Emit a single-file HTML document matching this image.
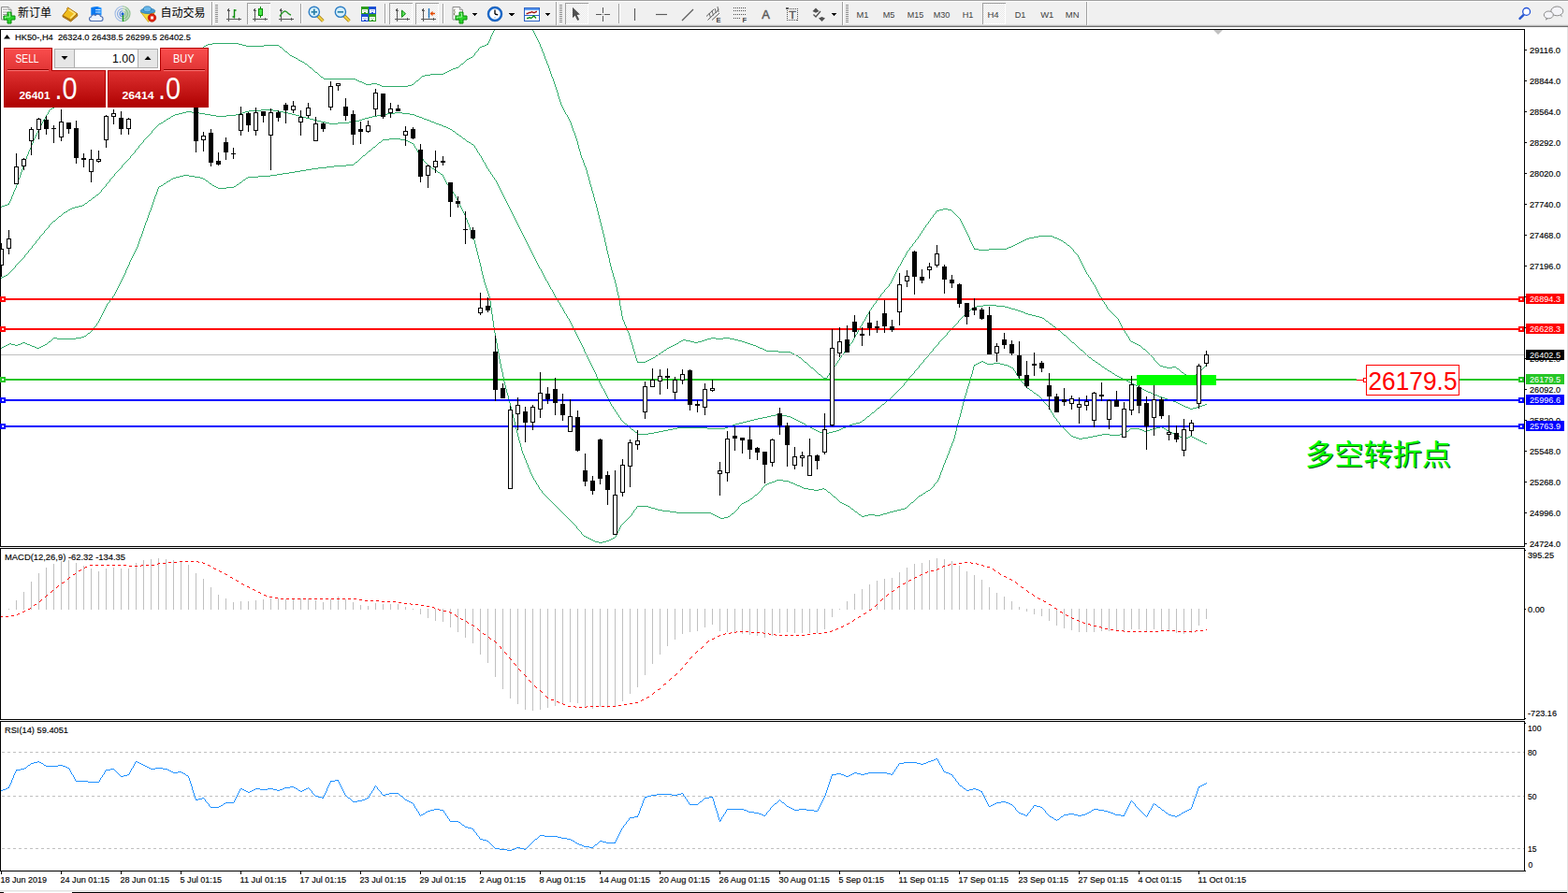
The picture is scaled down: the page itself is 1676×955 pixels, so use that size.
<!DOCTYPE html><html><head><meta charset="utf-8"><title>chart</title><style>html,body{margin:0;padding:0;background:#fff}body{width:1676px;height:955px;overflow:hidden}svg{display:block;font-family:"Liberation Sans",sans-serif}text{white-space:pre}.k text{stroke:#000;stroke-width:.15px}</style></head><body>
<svg width="1676" height="955" viewBox="0 0 1676 955" shape-rendering="crispEdges">
<defs>
<linearGradient id="gS" x1="0" y1="0" x2="0" y2="1"><stop offset="0" stop-color="#f64e4e"/><stop offset="1" stop-color="#e03838"/></linearGradient>
<linearGradient id="gP" x1="0" y1="0" x2="0" y2="1"><stop offset="0" stop-color="#d82c2c"/><stop offset="0.6" stop-color="#c41a1a"/><stop offset="1" stop-color="#ac0000"/></linearGradient>
<clipPath id="cm"><rect x="1" y="32" width="1628" height="552"/></clipPath>
<pattern id="chk" width="2" height="2" patternUnits="userSpaceOnUse"><rect width="2" height="2" fill="#fff"/><rect width="1" height="1" fill="#e6e6e6"/><rect x="1" y="1" width="1" height="1" fill="#e6e6e6"/></pattern>
</defs>
<rect x="0" y="0" width="1676" height="955" fill="#fff"/>
<rect x="0" y="0" width="1676" height="29" fill="#f0f0f0"/>
<rect x="0" y="0" width="1676" height="1" fill="#a0a0a0"/>
<rect x="0" y="1" width="1676" height="1" fill="#ffffff"/>
<rect x="0" y="26" width="1676" height="1" fill="#e2e2e2"/>
<rect x="0" y="27" width="1676" height="1" fill="#b4b4b4"/>
<rect x="0" y="28" width="1676" height="1" fill="#6e6e6e"/>
<rect x="0" y="29" width="1676" height="2" fill="#ffffff"/>
<g shape-rendering="geometricPrecision">
<path d="M1.5 7.5h7.500l3 3v10.500h-10.500z" fill="#fff" stroke="#8a8a8a"/><path d="M9 7.5v3h3" fill="#e8e8e8" stroke="#8a8a8a" stroke-width=".8"/>
<path d="M3 10h5" stroke="#9a9a9a" stroke-width="1"/>
<path d="M3 13h5" stroke="#9a9a9a" stroke-width="1"/>
<path d="M3 15.5h5" stroke="#9a9a9a" stroke-width="1"/>
<path d="M3 18h5" stroke="#9a9a9a" stroke-width="1"/>
<path d="M8 13h4v4h4v4h-4v4h-4v-4h-4v-4h4z" fill="#2bd42b" stroke="#0b8a0b" stroke-width="1"/>
<path d="M9 14.2h1.500v4h-5v1.500" fill="none" stroke="#9af59a" stroke-width="1"/>
<path d="M67 16.600l8.500 4.900l7-6.800l.4 2.200l-7.300 6.200l-8.600-5.200z" fill="#c8921c" stroke="#9a6410" stroke-width=".9" stroke-linejoin="round"/>
<path d="M72.600 8.100c-1.200 .6-1.300 1.800-.8 2.400l-4.700 6l8.400 4.800l7-6.700z" fill="#f0bc1c" stroke="#a86c0c" stroke-width="1" stroke-linejoin="round"/>
<path d="M73.500 10.200l6.800 4.500l-5 4.600" fill="none" stroke="#fce680" stroke-width="1.600" stroke-linejoin="round"/>
<path d="M97.500 8l7-1l4 1.500v8h-11z" fill="#1e90ff"/><path d="M97.500 8l7-1v9h-7z" fill="#0a78f0"/><path d="M102 10.500h5.500M102 13h5.500" stroke="#cfe8ff" stroke-width="1.2"/>
<path d="M98 22.500c-3 0-3.500-4-.5-4.500c0-2 3-3 4.500-1.500c1.500-2 5-1.500 5.500 1c3 0 3.500 4.500 .5 5z" fill="#eef3fb" stroke="#4a6cb0" stroke-width="1.1"/>
<g fill="none" stroke-width="1.100"><path d="M131 6.800a8 8 0 0 0 0 16" stroke="#3a78d8" opacity=".45"/><path d="M131 9.300a5.500 5.500 0 0 0 0 11" stroke="#3a78d8" opacity=".6"/><path d="M131 11.800a3 3 0 0 0 0 6" stroke="#3a78d8" opacity=".8"/><path d="M131 6.800a8 8 0 0 1 0 16" stroke="#4aa04a" opacity=".6"/><path d="M131 9.300a5.500 5.500 0 0 1 0 11" stroke="#4aa04a" opacity=".5"/><path d="M131 11.800a3 3 0 0 1 0 6" stroke="#6ab06a" opacity=".5"/></g>
<path d="M134 8.500a7.500 7.500 0 0 1 -1 14z" fill="#58a858" opacity=".35"/>
<path d="M131.500 15v8" stroke="#1a9a1a" stroke-width="1.500"/><circle cx="131" cy="14.800" r="1.600" fill="#1a5fd0"/>
<path d="M150.500 13h15l-7 10.500z" fill="#f8da3a" stroke="#c8a010" stroke-width=".8"/>
<ellipse cx="158" cy="11.700" rx="7.800" ry="2.800" fill="#4a9ed6" stroke="#2a7ab0" stroke-width=".8"/><ellipse cx="157.500" cy="9.800" rx="4.200" ry="3" fill="#6ab8ea" stroke="#2a7ab0" stroke-width=".8"/>
<circle cx="162.500" cy="19" r="4.200" fill="#e0220e" stroke="#b01808" stroke-width=".8"/><rect x="161" y="17.500" width="3" height="3" fill="#fff"/>
</g>
<text x="19" y="18" font-size="12" fill="#000" font-family="&quot;Liberation Sans&quot;, &quot;Noto Sans CJK SC&quot;, sans-serif">新订单</text>
<text x="171.5" y="18" font-size="12" fill="#000" font-family="&quot;Liberation Sans&quot;, &quot;Noto Sans CJK SC&quot;, sans-serif">自动交易</text>
<rect x="226" y="2" width="1" height="25" fill="#a0a0a0"/>
<rect x="227" y="2" width="1" height="25" fill="#ffffff"/>
<rect x="230" y="5" width="3" height="1" fill="#8e8e8e"/>
<rect x="230" y="7" width="3" height="1" fill="#8e8e8e"/>
<rect x="230" y="9" width="3" height="1" fill="#8e8e8e"/>
<rect x="230" y="11" width="3" height="1" fill="#8e8e8e"/>
<rect x="230" y="13" width="3" height="1" fill="#8e8e8e"/>
<rect x="230" y="15" width="3" height="1" fill="#8e8e8e"/>
<rect x="230" y="17" width="3" height="1" fill="#8e8e8e"/>
<rect x="230" y="19" width="3" height="1" fill="#8e8e8e"/>
<rect x="230" y="21" width="3" height="1" fill="#8e8e8e"/>
<rect x="230" y="23" width="3" height="1" fill="#8e8e8e"/>
<rect x="244" y="10" width="1" height="13" fill="#585858"/>
<rect x="242" y="20" width="13" height="1" fill="#585858"/>
<path d="M242.5 12l2-3l2 3z M254.5 18.500l3 2l-3 2z" fill="#585858"/>
<path d="M250.500 10v9.500M250.500 11h2M248.500 18h2" stroke="#0a8a0a" stroke-width="1.400" fill="none" shape-rendering="geometricPrecision"/>
<rect x="264" y="3" width="25" height="23" fill="url(#chk)"/>
<rect x="264" y="3" width="25" height="1" fill="#a0a0a0"/>
<rect x="264" y="3" width="1" height="23" fill="#a0a0a0"/>
<rect x="265" y="25" width="24" height="1" fill="#fff"/>
<rect x="288" y="4" width="1" height="22" fill="#fff"/>
<rect x="272" y="10" width="1" height="13" fill="#585858"/>
<rect x="270" y="20" width="13" height="1" fill="#585858"/>
<path d="M270.5 12l2-3l2 3z M282.5 18.500l3 2l-3 2z" fill="#585858"/>
<rect x="278" y="7" width="1" height="12" fill="#0a8a0a"/>
<rect x="276" y="9" width="5" height="8" fill="#0a8a0a"/>
<rect x="277" y="10" width="3" height="6" fill="#4ae84a"/>
<rect x="300" y="10" width="1" height="13" fill="#585858"/>
<rect x="298" y="20" width="13" height="1" fill="#585858"/>
<path d="M298.5 12l2-3l2 3z M310.5 18.500l3 2l-3 2z" fill="#585858"/>
<path d="M299 17.500C302 13 304 11 306 12.500S309 15.500 311 16" stroke="#2a9a2a" stroke-width="1.400" fill="none" shape-rendering="geometricPrecision"/>
<rect x="321" y="4" width="1" height="21" fill="#a0a0a0"/>
<rect x="322" y="4" width="1" height="21" fill="#ffffff"/>
<g shape-rendering="geometricPrecision"><path d="M339.8 17l5.500 5.500" stroke="#a8801a" stroke-width="3.600" stroke-linecap="butt"/><path d="M339.8 17l5.500 5.500" stroke="#f0d040" stroke-width="2"/><circle cx="335.8" cy="12.800" r="5.600" fill="#d6f0fb" stroke="#2a7cc4" stroke-width="1.400"/><path d="M332.6 12.800h6.400" stroke="#2a80a8" stroke-width="1.700"/><path d="M335.8 9.600v6.400" stroke="#2a80a8" stroke-width="1.700"/></g>
<g shape-rendering="geometricPrecision"><path d="M367.9 17l5.500 5.500" stroke="#a8801a" stroke-width="3.600" stroke-linecap="butt"/><path d="M367.9 17l5.500 5.500" stroke="#f0d040" stroke-width="2"/><circle cx="363.9" cy="12.800" r="5.600" fill="#d6f0fb" stroke="#2a7cc4" stroke-width="1.400"/><path d="M360.7 12.800h6.400" stroke="#2a80a8" stroke-width="1.700"/></g>
<rect x="386" y="7" width="8" height="8" fill="#2e9e1e"/>
<rect x="387" y="10" width="6" height="4" fill="#fff"/>
<rect x="388" y="11" width="4" height="1" fill="#b8d8b8"/>
<rect x="389" y="13" width="2" height="1" fill="#2e9e1e"/>
<rect x="394" y="7" width="8" height="8" fill="#1c50d4"/>
<rect x="395" y="10" width="6" height="4" fill="#fff"/>
<rect x="396" y="11" width="4" height="1" fill="#a8b8f0"/>
<rect x="397" y="13" width="2" height="1" fill="#1c50d4"/>
<rect x="386" y="15" width="8" height="8" fill="#1c50d4"/>
<rect x="387" y="18" width="6" height="4" fill="#fff"/>
<rect x="388" y="19" width="4" height="1" fill="#a8b8f0"/>
<rect x="389" y="21" width="2" height="1" fill="#1c50d4"/>
<rect x="394" y="15" width="8" height="8" fill="#2e9e1e"/>
<rect x="395" y="18" width="6" height="4" fill="#fff"/>
<rect x="396" y="19" width="4" height="1" fill="#b8d8b8"/>
<rect x="397" y="21" width="2" height="1" fill="#2e9e1e"/>
<rect x="411" y="4" width="1" height="21" fill="#a0a0a0"/>
<rect x="412" y="4" width="1" height="21" fill="#ffffff"/>
<rect x="416" y="3" width="25" height="23" fill="url(#chk)"/>
<rect x="416" y="3" width="25" height="1" fill="#a0a0a0"/>
<rect x="416" y="3" width="1" height="23" fill="#a0a0a0"/>
<rect x="417" y="25" width="24" height="1" fill="#fff"/>
<rect x="440" y="4" width="1" height="22" fill="#fff"/>
<rect x="424" y="10" width="1" height="13" fill="#585858"/>
<rect x="422" y="20" width="13" height="1" fill="#585858"/>
<path d="M422.5 12l2-3l2 3z M434.5 18.500l3 2l-3 2z" fill="#585858"/>
<path d="M429.500 11l4 3.700l-4 3.700z" fill="#5ae05a" stroke="#0a8a0a" stroke-width="1" shape-rendering="geometricPrecision"/>
<rect x="444" y="3" width="25" height="23" fill="url(#chk)"/>
<rect x="444" y="3" width="25" height="1" fill="#a0a0a0"/>
<rect x="444" y="3" width="1" height="23" fill="#a0a0a0"/>
<rect x="445" y="25" width="24" height="1" fill="#fff"/>
<rect x="468" y="4" width="1" height="22" fill="#fff"/>
<rect x="452" y="10" width="1" height="13" fill="#585858"/>
<rect x="450" y="20" width="13" height="1" fill="#585858"/>
<path d="M450.5 12l2-3l2 3z M462.5 18.500l3 2l-3 2z" fill="#585858"/>
<path d="M458.500 9v10.500" stroke="#1a70b8" stroke-width="1.400" shape-rendering="geometricPrecision"/><path d="M459.500 14.500l3-2.800v2.100h2.500v1.400h-2.500v2.100z" fill="#e24a00" shape-rendering="geometricPrecision"/>
<rect x="473" y="4" width="1" height="21" fill="#a0a0a0"/>
<rect x="474" y="4" width="1" height="21" fill="#ffffff"/>
<g shape-rendering="geometricPrecision">
<path d="M484.0 7.5h7.500l3 3v10.500h-10.500z" fill="#fff" stroke="#8a8a8a"/><path d="M491.5 7.5v3h3" fill="#e8e8e8" stroke="#8a8a8a" stroke-width=".8"/>
<path d="M486.500 10c-1.500 0-1.500 2.500 0 3c-1.500 .5-1.500 3.500 0 3.500" fill="none" stroke="#6a6a4a" stroke-width=".9"/>
<path d="M491 13h4v4h4v4h-4v4h-4v-4h-4v-4h4z" fill="#2bd42b" stroke="#0b8a0b" stroke-width="1"/>
<path d="M492 14.2h1.500v4h-5v1.500" fill="none" stroke="#9af59a" stroke-width="1"/>
</g>
<path d="M504.5 14h6l-3 3.500z" fill="#000"/>
<g shape-rendering="geometricPrecision"><circle cx="529" cy="15" r="6.900" fill="#fff" stroke="#1868cc" stroke-width="2.200"/><circle cx="529" cy="15" r="7.900" fill="none" stroke="#0a4aa0" stroke-width=".5"/><path d="M529 15v-4.500M529 15l3.200.8" stroke="#000" stroke-width="1.300" fill="none"/><circle cx="529" cy="18.800" r=".7" fill="#6ab0ff"/></g>
<path d="M544 14h6l-3 3.500z" fill="#000"/>
<rect x="560" y="8" width="17" height="15" fill="#2a60c4"/>
<rect x="561" y="9" width="15" height="2" fill="#5a9af0"/>
<rect x="561" y="11" width="15" height="5" fill="#fff"/>
<rect x="561" y="17" width="15" height="5" fill="#fff"/>
<path d="M562.500 14.500h1.500l1.500-1h1.500l1.500-1l1.500 1h1.500l1.500-1h1" stroke="#a01414" stroke-width="1.300" fill="none" shape-rendering="geometricPrecision"/><path d="M563 19.500h1.500l1.500-1l1.500 1l1.500-1l1.500-1.500l1.500 1.500l1 1" stroke="#0a8a0a" stroke-width="1.300" fill="none" shape-rendering="geometricPrecision"/>
<path d="M582.5 14h6l-3 3.500z" fill="#000"/>
<rect x="594" y="2" width="1" height="25" fill="#a0a0a0"/>
<rect x="595" y="2" width="1" height="25" fill="#ffffff"/>
<rect x="598" y="5" width="3" height="1" fill="#8e8e8e"/>
<rect x="598" y="7" width="3" height="1" fill="#8e8e8e"/>
<rect x="598" y="9" width="3" height="1" fill="#8e8e8e"/>
<rect x="598" y="11" width="3" height="1" fill="#8e8e8e"/>
<rect x="598" y="13" width="3" height="1" fill="#8e8e8e"/>
<rect x="598" y="15" width="3" height="1" fill="#8e8e8e"/>
<rect x="598" y="17" width="3" height="1" fill="#8e8e8e"/>
<rect x="598" y="19" width="3" height="1" fill="#8e8e8e"/>
<rect x="598" y="21" width="3" height="1" fill="#8e8e8e"/>
<rect x="598" y="23" width="3" height="1" fill="#8e8e8e"/>
<rect x="604" y="3" width="25" height="23" fill="url(#chk)"/>
<rect x="604" y="3" width="25" height="1" fill="#a0a0a0"/>
<rect x="604" y="3" width="1" height="23" fill="#a0a0a0"/>
<rect x="605" y="25" width="24" height="1" fill="#fff"/>
<rect x="628" y="4" width="1" height="22" fill="#fff"/>
<path d="M612 7.800v11.400l2.700-2.500l2.500 5.300l2-1l-2.500-5.100l3.300-.4z" fill="#505050" shape-rendering="geometricPrecision"/>
<rect x="637" y="15" width="6" height="1" fill="#585858"/>
<rect x="646" y="15" width="6" height="1" fill="#585858"/>
<rect x="644" y="8" width="1" height="6" fill="#585858"/>
<rect x="644" y="17" width="1" height="6" fill="#585858"/>
<rect x="644" y="15" width="1" height="1" fill="#909090"/>
<rect x="661" y="4" width="1" height="21" fill="#a0a0a0"/>
<rect x="662" y="4" width="1" height="21" fill="#ffffff"/>
<g shape-rendering="geometricPrecision" stroke="#5c5c5c" stroke-width="1.150" fill="none">
<path d="M678.500 9v13"/><path d="M701 15.500h12"/><path d="M729 22l12-12"/>
<path d="M755 17.500l8-7.500M756.500 21.500l12-11.500M761 21.500l8-7.500" stroke-width="1"/><path d="M758 14l1.500 5M761 11.500l1.500 5M764 9l1.500 5M767 7l1 6" stroke-width=".9"/>
</g>
<text x="765.5" y="24" font-size="7.5" fill="#404040" font-weight="bold">E</text>
<line x1="784" y1="8.5" x2="797" y2="8.5" stroke="#505050" stroke-width="1" stroke-dasharray="1 1"/>
<line x1="784" y1="11.5" x2="797" y2="11.5" stroke="#505050" stroke-width="1" stroke-dasharray="1 1"/>
<line x1="784" y1="15.5" x2="797" y2="15.5" stroke="#505050" stroke-width="1" stroke-dasharray="1 1"/>
<line x1="784" y1="19.5" x2="791" y2="19.5" stroke="#505050" stroke-width="1" stroke-dasharray="1 1"/>
<text x="793.5" y="24" font-size="7.5" fill="#404040" font-weight="bold">F</text>
<text x="814.3" y="20" font-size="12.5" fill="#585858" textLength="8.6" lengthAdjust="spacingAndGlyphs" stroke="#585858" stroke-width=".4">A</text>
<rect x="841.500" y="9.500" width="11" height="12" fill="none" stroke="#505050" stroke-width="1" stroke-dasharray="1 1"/>
<rect x="840" y="8" width="3" height="2" fill="#585858"/>
<text x="843.2" y="19.5" font-size="11.5" fill="#585858" textLength="7.6" lengthAdjust="spacingAndGlyphs" stroke="#585858" stroke-width=".4">T</text>
<g shape-rendering="geometricPrecision" fill="#505050"><path d="M868.500 12l3.500-3.500l3.500 3.500l-3.500 1.800z"/><path d="M875 19.500l3.500-1.500l3.500 1.500l-3.500 3.500z"/><path d="M869.500 15.500l2.500 2.500l5-6" fill="none" stroke="#505050" stroke-width="1.300"/></g>
<path d="M888.5 14h6l-3 3.500z" fill="#000"/>
<rect x="900" y="2" width="1" height="25" fill="#a0a0a0"/>
<rect x="901" y="2" width="1" height="25" fill="#ffffff"/>
<rect x="904" y="5" width="3" height="1" fill="#8e8e8e"/>
<rect x="904" y="7" width="3" height="1" fill="#8e8e8e"/>
<rect x="904" y="9" width="3" height="1" fill="#8e8e8e"/>
<rect x="904" y="11" width="3" height="1" fill="#8e8e8e"/>
<rect x="904" y="13" width="3" height="1" fill="#8e8e8e"/>
<rect x="904" y="15" width="3" height="1" fill="#8e8e8e"/>
<rect x="904" y="17" width="3" height="1" fill="#8e8e8e"/>
<rect x="904" y="19" width="3" height="1" fill="#8e8e8e"/>
<rect x="904" y="21" width="3" height="1" fill="#8e8e8e"/>
<rect x="904" y="23" width="3" height="1" fill="#8e8e8e"/>
<rect x="1050" y="3" width="25" height="23" fill="url(#chk)"/>
<rect x="1050" y="3" width="25" height="1" fill="#a0a0a0"/>
<rect x="1050" y="3" width="1" height="23" fill="#a0a0a0"/>
<rect x="1051" y="25" width="24" height="1" fill="#fff"/>
<rect x="1074" y="4" width="1" height="22" fill="#fff"/>
<text x="915.5" y="19" font-size="9.5" fill="#404040" textLength="13" lengthAdjust="spacingAndGlyphs">M1</text>
<text x="943.65" y="19" font-size="9.5" fill="#404040" textLength="12.7" lengthAdjust="spacingAndGlyphs">M5</text>
<text x="969.75" y="19" font-size="9.5" fill="#404040" textLength="17.5" lengthAdjust="spacingAndGlyphs">M15</text>
<text x="997.7" y="19" font-size="9.5" fill="#404040" textLength="17.6" lengthAdjust="spacingAndGlyphs">M30</text>
<text x="1028.65" y="19" font-size="9.5" fill="#404040" textLength="11.7" lengthAdjust="spacingAndGlyphs">H1</text>
<text x="1055.4" y="19" font-size="9.5" fill="#404040" textLength="12.2" lengthAdjust="spacingAndGlyphs">H4</text>
<text x="1084.65" y="19" font-size="9.5" fill="#404040" textLength="11.7" lengthAdjust="spacingAndGlyphs">D1</text>
<text x="1112.2" y="19" font-size="9.5" fill="#404040" textLength="14.2" lengthAdjust="spacingAndGlyphs">W1</text>
<text x="1138.8500000000001" y="19" font-size="9.5" fill="#404040" textLength="14.7" lengthAdjust="spacingAndGlyphs">MN</text>
<rect x="1161" y="2" width="1" height="25" fill="#a0a0a0"/>
<rect x="1162" y="2" width="1" height="25" fill="#ffffff"/>
<g shape-rendering="geometricPrecision"><path d="M1628.800 15.600l-4.300 4.300" stroke="#2a58d0" stroke-width="2.400" stroke-linecap="round"/><circle cx="1631.600" cy="12.400" r="3.900" fill="#fff" stroke="#2050d8" stroke-width="1.300"/>
<path d="M1668 16.500l1.500 2l-.3-2.300z" fill="#707070"/><ellipse cx="1664.300" cy="11.900" rx="6.500" ry="4.900" fill="#f4f4f8" stroke="#8a8a8a" stroke-width="1"/><path d="M1652.500 19.500l-.2 2.300l2-1.800z" fill="#707070"/><ellipse cx="1655.300" cy="15.900" rx="5" ry="3.900" fill="#f4f4f8" stroke="#8a8a8a" stroke-width="1"/></g>
<rect x="0" y="31" width="1630" height="1" fill="#000"/>
<rect x="0" y="31" width="1" height="901" fill="#000"/>
<rect x="1629" y="31" width="1" height="554" fill="#000"/>
<rect x="0" y="584" width="1630" height="1" fill="#000"/>
<rect x="0" y="586" width="1630" height="1" fill="#000"/>
<rect x="1629" y="586" width="1" height="184" fill="#000"/>
<rect x="0" y="769" width="1630" height="1" fill="#000"/>
<rect x="0" y="771" width="1630" height="1" fill="#000"/>
<rect x="1629" y="771" width="1" height="161" fill="#000"/>
<rect x="0" y="931" width="1631" height="1" fill="#000"/>
<rect x="0" y="585" width="1" height="1" fill="#fff"/>
<rect x="0" y="770" width="1" height="1" fill="#fff"/>
<rect x="1675" y="29" width="1" height="926" fill="#e3e3e3"/>
<rect x="0" y="952" width="1676" height="1" fill="#e3e3e3"/>
<rect x="0" y="953" width="1676" height="1" fill="#f0f0f0"/>
<rect x="0" y="954" width="4" height="1" fill="#000"/>
<rect x="77" y="954" width="1598" height="1" fill="#000"/>
<g clip-path="url(#cm)">
<path d="M1 221.5h1m0 -1h3m0 -1h3m0 -1h2m-1 -1h1m0.5 -2.5v2m1 -4v2m1 -5v3m1 -5v2m1 -5v3m1 -5v2m1 -4v2m1 -5v3m1 -6v3m1 -6v3m1 -5v2m1 -5v3m1 -6v3m1 -6v3m1 -6v3m1 -5v2m1 -5v3m1 -6v3m1 -6v3m1 -5v2m1 -5v3m1 -5v2m1 -4v2m1 -5v3m1 -5v2m1 -5v3m1 -5v2m1 -4v2m1 -4v2m1 -4v2m1 -4v2m1 -4v2m1 -4v2m1 -4v2m1 -4v2m1 -4v2m1 -4v2m0.5 -2.5h1m0.5 -2.5v2m1 -4v2m0.5 -2.5h1m0.5 -2.5v2m1 -4v2m0.5 -2.5h1m0 -1h2m0 -1h2m0 -1h2m0 -1h1m0 -1h2m0 -1h2m0 -1h2m0 -1h1m0 -1h2m0 -1h2m0 -1h2m0 -1h1m0 -1h2m0 -1h2m0 -1h1m0 -1h2m0 -1h2m0 -1h2m0 -1h1m0 -1h2m0 -1h2m0 -1h2m0 -1h1m0 -1h2m0 -1h2m0 -1h2m0 -1h2m0 -1h3m0 -1h3m0 -1h3m0 -1h3m0 -1h3m0 -1h3m0 -1h3m0 -1h3m0 -1h3m0 -1h3m0 -1h3m0 -1h3m0 -1h3m0 -1h3m0 -1h3m0 -1h3m0 -1h3m0 -1h3m0 -1h3m0 -1h3m0 -1h4m0 -1h4m0 -1h4m0 -1h3m0 -1h4m0 -1h4m0 -1h3m0 -1h4m0 -1h4m0 -1h4m0 -1h3m0 -1h4m0 -1h4m0 -1h2m0 -1h1m0 -1h1m0.5 -2.5v2m0.5 -2.5h1m0 -1h1m0 -1h2m0 -1h2m0 -1h5m0 -1h28m0 1h4m0 1h4m0 1h19m0 -1h16m0 1h1m0 1h2m0 1h1m0 1h1m0 1h1m0 1h1m0 1h2m0 1h1m0 1h1m0 1h1m0 1h2m0 1h2m0 1h2m0 1h2m0 1h1m0 1h2m0 1h2m0 1h2m0 1h1m0 1h2m0 1h1m0 1h1m0 1h1m0 1h2m0 1h1m0 1h1m0 1h1m0 1h1m0 1h2m0 1h1m0 1h1m0 1h1m0 1h1m0 1h2m0 1h1m0 1h34m0 1h2m0 1h2m0 1h3m0 1h2m0 1h2m0 1h6m0 -1h6m0 1h3m0 1h2m0 1h28m0 -1h4m0 -1h2m0 -1h1m0 -1h1m0 -1h1m0 -1h2m0 -1h1m0 -1h1m0 -1h1m0 -1h1m0 -1h3m0 -1h6m0 -1h14m0 -1h2m0 -1h2m0 -1h2m0 -1h2m0 -1h2m0 -1h3m0 -1h3m0 -1h1m0 -1h1m0 -1h1m0 -1h2m0 -1h1m0 -1h1m0 -1h1m0 -1h1m0 -1h2m0 -1h2m0 -1h2m0 -1h1m0 -1h1m0.5 -2.5v2m0.5 -2.5h1m0 -1h1m0 -1h1m0.5 -2.5v2m0.5 -2.5h1m0 -1h2m0 -1h3m0 -1h2m0 -1h2m-1 -1h1m0.5 -2.5v2m1 -4v2m1 -5v3m1 -5v2m1 -4v2m1 -4v2m0.5 -2.5h1m40 0h1m0.5 0.5v2m1 0v2m1 0v2m1 0v2m1 0v2m1 0v2m1 0v2m1 0v3m1 0v2m1 0v3m1 0v2m1 0v3m1 0v3m1 0v2m1 0v3m1 0v2m1 0v3m1 0v3m1 0v3m1 0v3m1 0v2m1 0v3m1 0v3m1 0v3m1 0v3m1 0v3m1 0v4m1 0v3m1 0v3m1 0v3m1 0v2m1 0v2m1 0v2m1 0v2m1 0v2m0.5 0.5h1m0.5 0.5v2m1 0v2m1 0v2m1 0v2m1 0v3m1 0v3m1 0v3m1 0v2m1 0v3m1 0v3m1 0v3m1 0v4m1 0v4m1 0v3m1 0v4m1 0v3m1 0v2m1 0v3m1 0v3m1 0v2m1 0v3m1 0v4m1 0v3m1 0v4m1 0v4m1 0v3m1 0v4m1 0v3m1 0v4m1 0v4m1 0v3m1 0v4m1 0v4m1 0v4m1 0v4m1 0v4m1 0v4m1 0v4m1 0v4m1 0v4m1 0v5m1 0v4m1 0v5m1 0v4m1 0v4m1 0v5m1 0v4m1 0v4m1 0v3m1 0v4m1 0v3m1 0v4m1 0v4m1 0v5m1 0v4m1 0v5m1 0v6m1 0v5m1 0v6m1 0v4m1 0v2m1 0v3m1 0v2m1 0v2m1 0v3m1 0v2m1 0v3m1 0v4m1 0v3m1 0v3m1 0v4m1 0v3m1 0v3m1 0v4m1 0v3m1 0v2m0.5 -0.5h8m0 -1h2m0 -1h2m0 -1h2m0 -1h2m0 -1h2m0 -1h1m0 -1h2m0 -1h1m0 -1h2m0 -1h1m0 -1h2m0 -1h1m0 -1h2m0 -1h1m0 -1h2m0 -1h2m0 -1h2m0 -1h2m0 -1h2m0 -1h2m0 -1h1m0 -1h2m0 -1h2m0 -1h3m0 1h5m0 1h4m0 1h4m0 -1h4m0 -1h3m0 -1h3m0 -1h4m0 -1h5m0 1h8m0 -1h7m0 1h5m0 1h4m0 1h4m0 1h3m0 1h3m0 1h3m0 1h3m0 1h3m0 1h2m0 1h2m0 1h3m0 1h2m0 1h2m0 1h13m0 1h13m0 1h2m0 1h2m0 1h2m0 1h2m0 1h1m0 1h2m0 1h1m0 1h1m0 1h1m0 1h1m0 1h2m0 1h1m0 1h1m0 1h1m0 1h1m0 1h1m0 1h2m0 1h1m0 1h1m0 1h1m0 1h1m0 1h1m0 1h1m0 1h2m0 1h1m0 1h1m0 1h1m0 1h4m0.5 -2.5v2m0.5 -2.5h1m0.5 -2.5v2m0.5 -2.5h1m0 -1h1m0.5 -2.5v2m0.5 -2.5h1m0.5 -2.5v2m0.5 -2.5h1m0.5 -2.5v2m0.5 -2.5h1m0.5 -2.5v2m0.5 -2.5h1m0.5 -2.5v2m0.5 -2.5h1m0.5 -2.5v2m0.5 -2.5h1m0 -1h1m0.5 -2.5v2m0.5 -2.5h1m0 -1h1m0.5 -2.5v2m0.5 -2.5h1m0 -1h1m0.5 -2.5v2m0.5 -2.5h1m0 -1h1m0.5 -2.5v2m1 -4v2m1 -4v2m1 -4v2m0.5 -2.5h1m0.5 -2.5v2m1 -4v2m1 -4v2m1 -4v2m0.5 -2.5h1m0.5 -2.5v2m1 -4v2m0.5 -2.5h1m0.5 -2.5v2m1 -4v2m1 -4v2m0.5 -2.5h1m0.5 -2.5v2m1 -4v2m0.5 -2.5h1m0.5 -2.5v2m0.5 -2.5h1m0.5 -2.5v2m0.5 -2.5h1m0 -1h1m0.5 -2.5v2m0.5 -2.5h1m0.5 -2.5v2m0.5 -2.5h1m0 -1h1m0.5 -2.5v2m0.5 -2.5h1m0 -1h1m0 -1h1m0.5 -2.5v2m0.5 -2.5h1m0 -1h1m0 -1h1m0 -1h1m0.5 -2.5v2m0.5 -2.5h1m0.5 -2.5v2m1 -4v2m1 -4v2m1 -4v2m1 -4v2m1 -4v2m1 -4v2m1 -4v2m1 -4v2m0.5 -2.5h1m0.5 -2.5v2m1 -4v2m1 -4v2m1 -4v2m0.5 -2.5h1m0.5 -2.5v2m1 -4v2m1 -4v2m0.5 -2.5h1m0 -1h1m0.5 -2.5v2m0.5 -2.5h1m0 -1h1m0.5 -2.5v2m0.5 -2.5h1m0 -1h1m0.5 -2.5v2m0.5 -2.5h1m0 -1h1m0.5 -2.5v2m0.5 -2.5h1m0.5 -2.5v2m0.5 -2.5h1m0.5 -2.5v2m0.5 -2.5h1m0.5 -2.5v2m0.5 -2.5h1m0.5 -2.5v2m0.5 -2.5h1m0 -1h1m0.5 -2.5v2m0.5 -2.5h1m0.5 -2.5v2m0.5 -2.5h1m0 -1h1m0.5 -2.5v2m0.5 -2.5h1m0 -1h1m0.5 -2.5v2m0.5 -2.5h3m0 -1h4m0 -1h5m0 1h4m0 1h1m0 1h1m0 1h1m0 1h1m0 1h1m0 1h1m0 1h1m0 1h1m0 1h1m0.5 0.5v2m1 0v2m1 0v2m1 0v2m1 0v2m1 0v2m1 0v2m1 0v2m1 0v2m1 0v2m1 0v3m1 0v2m1 0v2m1 0v2m1 0v2m1 0v2m0.5 -0.5h4m0 1h11m0 -1h19m0 -1h2m0 -1h3m0 -1h2m0 -1h2m0 -1h2m0 -1h2m0 -1h2m0 -1h2m0 -1h2m0 -1h2m0 -1h3m0 -1h5m0 -1h5m0 -1h15m0 1h2m0 1h3m0 1h2m0 1h2m0 1h2m0 1h1m0 1h2m0 1h1m0 1h1m0 1h2m0 1h1m0 1h1m0 1h1m0 1h1m0.5 0.5v2m0.5 0.5h1m0 1h1m0 1h1m0 1h1m0.5 0.5v2m1 0v2m1 0v2m1 0v2m1 0v2m1 0v2m1 0v2m1 0v2m1 0v2m1 0v2m0.5 0.5h1m0.5 0.5v2m0.5 0.5h1m0.5 0.5v2m1 0v2m0.5 0.5h1m0.5 0.5v2m0.5 0.5h1m0.5 0.5v2m1 0v2m1 0v2m1 0v2m1 0v2m1 0v2m0.5 0.5h1m0.5 0.5v2m1 0v2m0.5 0.5h1m0.5 0.5v2m0.5 0.5h1m0.5 0.5v2m1 0v2m0.5 0.5h1m0 1h1m0 1h1m0 1h1m0 1h1m0 1h1m0 1h1m0 1h1m0 1h1m0 1h1m0 1h1m0.5 0.5v2m1 0v2m1 0v2m1 0v2m1 0v2m0.5 0.5h1m0.5 0.5v2m1 0v2m0.5 0.5h1m0.5 0.5v2m0.5 0.5h1m0.5 0.5v2m1 0v2m0.5 0.5h1m0 1h2m0 1h2m0 1h2m0 1h2m0 1h2m0 1h1m0 1h1m0 1h1m0 1h2m0 1h1m0 1h1m0 1h1m0 1h1m0 1h1m0 1h1m0 1h1m0 1h1m0 1h1m0.5 0.5v2m0.5 0.5h1m0 1h1m0 1h1m0 1h1m0 1h1m0 1h1m0 1h3m0 1h4m0 1h6m0 -1h4m0 1h1m0 1h2m0 1h1m0 1h1m0 1h1m0 1h2m0 1h1m0 1h2m0 1h2m0 1h2m0 1h2m0 -1h2m0 -1h2m0 -1h1m0 -1h2m0 -1h1m0 -1h1m0 -1h1m0 -1h1m0 -1h1m0 -1h1m0 -1h1m0 -1h1m0 -1h1" fill="none" stroke="#2fab6a" stroke-width="1"/>
<path d="M1 297.5h1m0 -1h2m0 -1h2m0 -1h2m0 -1h1m0 -1h1m0 -1h1m0 -1h1m0 -1h1m0 -1h1m0 -1h1m0 -1h1m0.5 -2.5v2m0.5 -2.5h1m0 -1h1m0 -1h1m0 -1h1m0 -1h1m0 -1h1m0 -1h1m0 -1h1m0 -1h1m0.5 -2.5v2m0.5 -2.5h1m0 -1h1m0 -1h1m0.5 -2.5v2m0.5 -2.5h1m0 -1h1m0 -1h1m0.5 -2.5v2m0.5 -2.5h1m0 -1h1m0 -1h1m0.5 -2.5v2m0.5 -2.5h1m0 -1h1m0 -1h1m0.5 -2.5v2m0.5 -2.5h1m0 -1h1m0 -1h1m0 -1h1m0.5 -2.5v2m0.5 -2.5h1m0 -1h1m0 -1h1m0 -1h1m0.5 -2.5v2m0.5 -2.5h1m0 -1h1m0 -1h1m0 -1h1m0 -1h2m0 -1h1m0 -1h1m0 -1h1m0 -1h1m0 -1h2m0 -1h1m0 -1h1m0 -1h1m0 -1h2m0 -1h2m0 -1h1m0 -1h2m0 -1h2m0 -1h3m0 -1h4m0 -1h4m0 -1h2m0 -1h1m0 -1h2m0 -1h1m0 -1h1m0 -1h2m0 -1h1m0 -1h1m0 -1h2m0 -1h1m0 -1h1m0 -1h2m0 -1h1m0 -1h1m0 -1h1m0.5 -2.5v2m0.5 -2.5h1m0 -1h1m0 -1h1m0 -1h1m0.5 -2.5v2m0.5 -2.5h1m0 -1h1m0 -1h1m0.5 -2.5v2m0.5 -2.5h1m0 -1h1m0 -1h1m0 -1h1m0.5 -2.5v2m0.5 -2.5h1m0 -1h1m0 -1h1m0 -1h1m0 -1h1m0 -1h1m0 -1h1m0.5 -2.5v2m0.5 -2.5h1m0 -1h1m0 -1h1m0 -1h1m0 -1h1m0 -1h1m0 -1h1m0 -1h1m0.5 -2.5v2m0.5 -2.5h1m0 -1h1m0 -1h1m0 -1h1m0.5 -2.5v2m0.5 -2.5h1m0 -1h1m0 -1h1m0.5 -2.5v2m0.5 -2.5h1m0 -1h1m0 -1h1m0 -1h1m0.5 -2.5v2m0.5 -2.5h1m0 -1h1m0 -1h1m0 -1h1m0 -1h1m0 -1h1m0 -1h1m0 -1h1m0.5 -2.5v2m0.5 -2.5h1m0 -1h1m0 -1h1m0 -1h1m0 -1h1m0 -1h1m0 -1h1m0 -1h2m0 -1h2m0 -1h1m0 -1h2m0 -1h1m0 -1h2m0 -1h2m0 -1h1m0 -1h2m0 -1h2m0 -1h4m0 -1h4m0 -1h4m0 -1h6m0 1h8m0 1h6m0 1h6m0 1h6m0 1h11m0 -1h10m0 -1h4m0 -1h3m0 -1h3m0 -1h4m0 -1h13m0 -1h13m0 1h6m0 1h5m0 1h5m0 1h4m0 1h4m0 1h4m0 1h3m0 1h4m0 1h4m0 1h4m0 1h4m0 1h4m0 1h5m0 1h4m0 1h9m0 -1h12m0 -1h7m0 -1h4m0 -1h3m0 -1h3m0 -1h4m0 -1h4m0 -1h5m0 -1h4m0 -1h7m0 -1h8m0 -1h8m0 1h8m0 1h5m0 1h2m0 1h3m0 1h3m0 1h2m0 1h3m0 1h3m0 1h2m0 1h3m0 1h2m0 1h3m0 1h3m0 1h2m0 1h3m0 1h2m0 1h2m0 1h2m0 1h1m0 1h2m0 1h1m0 1h1m0 1h2m0 1h1m0 1h2m0 1h1m0 1h1m0 1h2m0 1h1m0 1h1m0 1h2m0 1h2m0 1h1m0 1h2m0 1h1m0.5 0.5v2m0.5 0.5h1m0.5 0.5v2m1 0v2m0.5 0.5h1m0.5 0.5v2m0.5 0.5h1m0.5 0.5v2m1 0v2m1 0v2m0.5 0.5h1m0.5 0.5v2m1 0v2m1 0v2m0.5 0.5h1m0.5 0.5v2m0.5 0.5h1m0.5 0.5v2m0.5 0.5h1m0.5 0.5v2m0.5 0.5h1m0.5 0.5v2m0.5 0.5h1m0.5 0.5v2m1 0v2m1 0v2m1 0v2m1 0v2m1 0v2m1 0v2m1 0v2m1 0v2m1 0v2m1 0v2m1 0v2m1 0v2m1 0v2m1 0v2m1 0v2m1 0v2m1 0v2m1 0v2m1 0v2m1 0v2m1 0v2m1 0v2m1 0v2m1 0v2m1 0v2m1 0v2m1 0v2m1 0v2m1 0v2m1 0v2m1 0v2m1 0v2m1 0v2m1 0v2m1 0v2m1 0v2m1 0v2m1 0v2m1 0v2m1 0v2m1 0v2m1 0v2m1 0v2m1 0v2m1 0v2m1 0v2m0.5 0.5h1m0.5 0.5v2m1 0v2m1 0v2m1 0v2m1 0v2m1 0v2m0.5 0.5h1m0.5 0.5v2m1 0v2m1 0v2m1 0v2m0.5 0.5h1m0.5 0.5v2m1 0v2m1 0v2m1 0v2m0.5 0.5h1m0.5 0.5v2m1 0v2m0.5 0.5h1m0.5 0.5v2m1 0v2m0.5 0.5h1m0.5 0.5v2m1 0v2m1 0v2m0.5 0.5h1m0.5 0.5v2m1 0v2m0.5 0.5h1m0.5 0.5v2m1 0v2m1 0v2m1 0v2m1 0v2m1 0v2m1 0v2m1 0v2m1 0v2m1 0v2m1 0v2m1 0v2m1 0v2m1 0v2m1 0v2m1 0v2m1 0v3m1 0v2m1 0v2m1 0v2m1 0v2m1 0v2m1 0v2m1 0v2m1 0v2m1 0v2m1 0v2m1 0v2m1 0v2m1 0v3m1 0v2m1 0v2m1 0v2m1 0v2m1 0v2m1 0v2m0.5 0.5h1m0.5 0.5v2m1 0v2m1 0v2m1 0v2m1 0v2m1 0v2m1 0v2m1 0v2m1 0v2m0.5 0.5h1m0.5 0.5v2m0.5 0.5h1m0.5 0.5v2m0.5 0.5h1m0.5 0.5v2m0.5 0.5h1m0.5 0.5v2m0.5 0.5h1m0.5 0.5v2m0.5 0.5h1m0 1h1m0 1h1m0 1h1m0 1h2m0 1h1m0 1h1m0 1h1m0 1h1m0 1h1m0 1h2m0 1h1m0 1h1m0 1h2m0 1h1m0 1h11m0 -1h6m0 -1h5m0 -1h5m0 -1h5m0 -1h5m0 -1h5m0 -1h32m0 1h19m0 -1h3m0 -1h3m0 -1h2m0 -1h3m0 -1h4m0 -1h4m0 -1h4m0 -1h4m0 -1h4m0 -1h4m0 -1h5m0 -1h5m0 -1h4m0 -1h5m0 -1h6m0 1h6m0 1h4m0 1h2m0 1h2m0 1h2m0 1h2m0 1h2m0 1h2m0 1h2m0 1h2m0 1h1m0 1h2m0 1h2m0 1h2m0 1h2m0 1h2m0 1h2m0 1h2m0 1h5m0 1h5m0 -1h4m0 -1h4m0 -1h3m0 -1h2m0 -1h2m0 -1h3m0 -1h2m0 -1h2m0 -1h3m0 -1h4m0 -1h4m0 -1h2m0 -1h1m0 -1h2m0 -1h1m0 -1h1m0 -1h1m0 -1h2m0 -1h1m0 -1h1m0 -1h1m0 -1h2m0 -1h1m0 -1h1m0 -1h1m0 -1h1m0 -1h2m0 -1h1m0 -1h1m0 -1h1m0 -1h2m0 -1h1m0 -1h1m0 -1h1m0 -1h1m0 -1h2m0 -1h1m0 -1h1m0 -1h1m0 -1h1m0 -1h1m0 -1h1m0 -1h1m0 -1h1m0 -1h1m0 -1h1m0 -1h1m0 -1h1m0 -1h1m0 -1h1m0 -1h1m0.5 -2.5v2m0.5 -2.5h1m0 -1h1m0 -1h1m0 -1h1m0.5 -2.5v2m0.5 -2.5h1m0 -1h1m0 -1h1m0 -1h1m0 -1h1m0.5 -2.5v2m0.5 -2.5h1m0 -1h1m0 -1h1m0 -1h1m0.5 -2.5v2m0.5 -2.5h1m0 -1h1m0 -1h1m0 -1h1m0.5 -2.5v2m0.5 -2.5h1m0 -1h1m0 -1h1m0 -1h1m0.5 -2.5v2m0.5 -2.5h1m0 -1h1m0 -1h1m0 -1h1m0.5 -2.5v2m0.5 -2.5h1m0 -1h1m0 -1h1m0 -1h1m0 -1h1m0.5 -2.5v2m0.5 -2.5h1m0 -1h1m0 -1h1m0 -1h1m0 -1h1m0 -1h1m0 -1h1m0 -1h1m0.5 -2.5v2m0.5 -2.5h1m0 -1h1m0 -1h1m0 -1h1m0 -1h1m0 -1h1m0 -1h1m0 -1h1m0 -1h1m0 -1h1m0 -1h1m0.5 -2.5v2m0.5 -2.5h1m0 -1h1m0 -1h1m0 -1h1m0 -1h1m0 -1h1m0 -1h1m0 -1h2m0 -1h1m0 -1h1m0 -1h1m0 -1h1m0 -1h2m0 -1h2m0 -1h2m0 -1h7m0 -1h14m0 1h9m0 1h4m0 1h3m0 1h4m0 1h3m0 1h3m0 1h3m0 1h2m0 1h3m0 1h4m0 1h4m0 1h4m0 1h3m0 1h2m0 1h1m0 1h1m0 1h2m0 1h1m0 1h1m0 1h2m0 1h1m0 1h1m0 1h2m0 1h1m0 1h1m0 1h1m0 1h2m0 1h1m0 1h1m0 1h1m0 1h1m0 1h2m0 1h1m0 1h1m0 1h1m0 1h1m0 1h1m0 1h1m0 1h1m0 1h2m0 1h1m0 1h1m0 1h1m0 1h1m0 1h1m0 1h1m0 1h1m0 1h2m0 1h1m0 1h1m0 1h1m0 1h1m0 1h1m0 1h1m0 1h1m0 1h2m0 1h1m0 1h1m0 1h2m0 1h1m0 1h2m0 1h1m0 1h2m0 1h1m0 1h1m0 1h2m0 1h1m0 1h2m0 1h1m0 1h2m0 1h2m0 1h1m0 1h2m0 1h1m0 1h2m0 1h2m0 1h2m0 1h2m0 1h2m0 1h2m0 1h2m0 1h2m0 1h2m0 1h2m0 1h2m0 1h2m0 1h1m0 1h2m0 1h2m0 1h2m0 1h2m0 1h2m0 1h3m0 1h2m0 1h2m0 1h3m0 1h2m0 1h3m0 1h3m0 1h3m0 1h3m0 1h3m0 1h3m0 1h2m0 1h2m0 1h2m0 1h2m0 1h2m0 1h3m0 1h2m0 1h3m0 -1h4m0 -1h3m0 -1h3m0 -1h3m0 -1h2" fill="none" stroke="#2fab6a" stroke-width="1"/>
<path d="M1 372.5h1m0 -1h2m0 -1h2m0 -1h2m0 -1h2m0 -1h2m0 1h4m0 1h3m0 -1h3m0 -1h2m0 -1h3m0 1h2m0 1h3m0 1h2m0 1h3m0 1h2m0 1h3m0 -1h2m0 -1h2m0 -1h2m0 -1h2m0 -1h1m0 -1h1m0 -1h2m0 -1h1m0 -1h1m0 -1h1m0 -1h4m0 1h20m0 -1h6m0 -1h3m0 -1h2m0 -1h1m0 -1h1m0 -1h2m0 -1h1m0 -1h1m0 -1h1m0.5 -2.5v2m0.5 -2.5h1m0 -1h1m0 -1h1m0.5 -2.5v2m0.5 -2.5h1m0.5 -2.5v2m1 -4v2m1 -4v2m1 -4v2m1 -4v2m1 -4v2m1 -4v2m1 -4v2m1 -4v2m1 -4v2m0.5 -2.5h1m0 -1h1m0.5 -2.5v2m0.5 -2.5h1m0 -1h1m0.5 -2.5v2m0.5 -2.5h1m0.5 -2.5v2m1 -4v2m1 -4v2m1 -4v2m1 -4v2m1 -4v2m1 -4v2m1 -4v2m1 -4v2m1 -4v2m1 -4v2m1 -4v2m1 -5v3m1 -5v2m1 -4v2m1 -4v2m1 -5v3m1 -5v2m1 -4v2m1 -4v2m1 -4v2m1 -4v2m1 -4v2m1 -4v2m1 -4v2m1 -5v3m1 -6v3m1 -6v3m1 -5v2m1 -5v3m1 -6v3m1 -6v3m1 -6v3m1 -6v3m1 -5v2m1 -5v3m1 -6v3m1 -6v3m1 -5v2m1 -5v3m1 -6v3m1 -6v3m1 -6v3m1 -6v3m1 -5v2m1 -5v3m1 -6v3m1 -5v2m0.5 -2.5h2m0 -1h2m0 -1h1m0 -1h2m0 -1h1m0 -1h2m0 -1h2m0 -1h1m0 -1h2m0 -1h3m0 -1h4m0 -1h4m0 -1h6m0 1h6m0 1h6m0 1h3m0 1h2m0 1h1m0 1h2m0 1h1m0 1h1m0 1h2m0 1h1m0 1h2m0 1h2m0 1h2m0 1h9m0 -1h8m0 -1h2m0 -1h1m0 -1h2m0 -1h1m0 -1h2m0 -1h1m0 -1h1m0 -1h2m0 -1h1m0 -1h2m0 -1h11m0 -1h13m0 -1h7m0 -1h6m0 -1h7m0 -1h6m0 -1h6m0 -1h6m0 -1h6m0 -1h7m0 -1h9m0 -1h8m0 -1h13m0 -1h8m0 -1h1m0 -1h1m0 -1h2m0 -1h1m0 -1h1m0 -1h1m0 -1h1m0 -1h1m0 -1h1m0 -1h2m0 -1h1m0 -1h1m0 -1h1m0 -1h1m0 -1h2m0 -1h1m0 -1h1m0 -1h1m0 -1h2m0 -1h1m0 -1h1m0 -1h1m0 -1h1m0 -1h2m0 -1h1m0 -1h1m0 -1h7m0 -1h12m0 1h6m0 1h2m0 1h2m0 1h2m0 1h2m0.5 0.5v2m1 0v2m0.5 0.5h1m0.5 0.5v2m1 0v2m0.5 0.5h1m0.5 0.5v2m0.5 0.5h1m0.5 0.5v2m0.5 0.5h1m0.5 0.5v2m0.5 0.5h1m0 1h1m0 1h1m0 1h1m0 1h1m0 1h1m0 1h2m0 1h1m0 1h2m0 1h1m0 1h2m0 1h1m0 1h2m0 1h1m0 1h2m0.5 0.5v2m1 0v2m1 0v2m1 0v2m1 0v2m0.5 0.5h1m0.5 0.5v2m0.5 0.5h1m0.5 0.5v2m0.5 0.5h1m0 1h1m0.5 0.5v2m0.5 0.5h1m0.5 0.5v2m1 0v2m1 0v2m1 0v2m1 0v2m1 0v2m1 0v2m1 0v2m1 0v2m1 0v2m1 0v2m1 0v3m1 0v2m1 0v3m1 0v2m1 0v3m1 0v3m1 0v2m1 0v3m1 0v2m1 0v4m1 0v4m1 0v4m1 0v4m1 0v4m1 0v4m1 0v4m1 0v4m1 0v5m1 0v4m1 0v4m1 0v4m1 0v3m1 0v3m1 0v3m1 0v3m1 0v3m1 0v5m1 0v7m1 0v7m1 0v7m1 0v7m1 0v6m1 0v6m1 0v5m1 0v6m1 0v5m1 0v6m1 0v5m1 0v5m1 0v4m1 0v5m1 0v5m1 0v4m1 0v4m1 0v4m1 0v3m1 0v4m1 0v4m1 0v4m1 0v4m1 0v4m1 0v4m1 0v4m1 0v4m1 0v4m1 0v4m1 0v4m1 0v4m1 0v3m1 0v4m1 0v4m1 0v3m1 0v2m1 0v3m1 0v2m1 0v3m1 0v2m1 0v3m1 0v2m1 0v3m1 0v2m1 0v2m1 0v2m1 0v2m0.5 0.5h1m0.5 0.5v2m1 0v2m0.5 0.5h1m0.5 0.5v2m1 0v2m0.5 0.5h1m0 1h1m0.5 0.5v2m0.5 0.5h1m0 1h1m0 1h1m0 1h1m0 1h1m0 1h1m0 1h1m0 1h1m0 1h1m0 1h1m0 1h1m0 1h1m0 1h1m0 1h1m0 1h1m0 1h1m0 1h1m0 1h1m0 1h1m0 1h1m0 1h1m0 1h1m0 1h1m0 1h1m0 1h1m0 1h1m0 1h1m0 1h1m0 1h1m0 1h1m0 1h1m0 1h1m0 1h1m0 1h1m0 1h1m0 1h1m0.5 0.5v2m0.5 0.5h1m0 1h1m0 1h1m0 1h1m0.5 0.5v2m0.5 0.5h1m0 1h1m0 1h2m0 1h2m0 1h2m0 1h2m0 1h2m0 1h2m0 1h4m0 1h4m0 -1h4m0 -1h3m0 -1h2m0 -1h2m0 -1h2m0 -1h1m0.5 -2.5v2m1 -4v2m1 -4v2m1 -4v2m1 -4v2m1 -4v2m0.5 -2.5h1m0 -1h1m0 -1h1m0 -1h1m0 -1h1m0 -1h1m0 -1h1m0 -1h1m0 -1h1m0 -1h1m0 -1h1m0.5 -2.5v2m0.5 -2.5h1m0.5 -2.5v2m0.5 -2.5h1m0 -1h1m0.5 -2.5v2m0.5 -2.5h12m0 1h3m0 1h4m0 1h3m0 1h5m0 1h8m0 1h7m0 1h37m0 1h2m0 1h2m0 1h2m0 1h2m0 1h2m0 1h4m0 -1h4m0 -1h2m0 -1h1m0 -1h1m0 -1h2m0 -1h1m0 -1h1m0 -1h1m0 -1h1m0 -1h1m0.5 -2.5v2m0.5 -2.5h1m0 -1h1m0 -1h1m0 -1h2m0 -1h2m0 -1h2m0 -1h2m0 -1h1m0 -1h2m0 -1h1m0 -1h1m0 -1h1m0 -1h2m0 -1h1m0 -1h1m0 -1h1m0 -1h1m0 -1h1m0.5 -2.5v2m0.5 -2.5h1m0 -1h1m0 -1h1m0 -1h2m0 -1h2m0 -1h3m0 -1h3m0 -1h2m0 -1h7m0 1h6m0 1h2m0 1h3m0 1h2m0 1h2m0 1h3m0 1h2m0 1h2m0 1h5m0 1h6m0 1h5m0 -1h4m0 -1h2m0 1h2m0 1h1m0 1h1m0 1h2m0 1h1m0 1h1m0 1h1m0 1h1m0 1h2m0 1h1m0 1h1m0 1h1m0 1h1m0 1h1m0 1h2m0 1h2m0 1h2m0 1h2m0 1h2m0 1h1m0 1h1m0 1h2m0 1h1m0 1h1m0 1h2m0 1h1m0 1h1m0 1h2m0 1h1m0 1h3m0 -1h4m0 -1h7m0 1h6m0 -1h3m0 -1h4m0 -1h3m0 -1h4m0 -1h4m0 -1h4m0 -1h4m0 -1h2m0 -1h1m0 -1h1m0 -1h1m0 -1h1m0 -1h1m0 -1h2m0 -1h1m0 -1h1m0 -1h1m0 -1h1m0 -1h1m0 -1h1m0 -1h2m0 -1h2m0 -1h1m0 -1h2m0 -1h1m0 -1h2m0 -1h2m0 -1h1m0 -1h1m0 -1h1m0 -1h1m0.5 -2.5v2m0.5 -2.5h1m0 -1h1m0 -1h1m0.5 -2.5v2m1 -4v2m1 -5v3m1 -6v3m1 -5v2m1 -5v3m1 -6v3m1 -5v2m1 -5v3m1 -5v2m1 -5v3m1 -5v2m1 -5v3m1 -6v3m1 -5v2m1 -5v3m1 -5v2m1 -5v3m1 -7v4m1 -8v4m1 -8v4m1 -8v4m1 -8v4m1 -7v3m1 -7v4m1 -8v4m1 -8v4m1 -8v4m1 -8v4m1 -7v3m1 -6v3m1 -7v4m1 -7v3m1 -6v3m1 -7v4m1 -7v3m1 -6v3m1 -7v4m1 -8v4m1 -6v2m0.5 -1.5h1m0 -1h2m0 -1h2m0 -1h2m0 -1h2m0 1h2m0 1h2m0 1h7m0 -1h7m0 1h4m0 1h4m0 1h2m0 1h2m0 1h2m0.5 0.5v2m0.5 0.5h1m0.5 0.5v2m1 0v2m0.5 0.5h1m0.5 0.5v2m0.5 0.5h1m0 1h1m0.5 0.5v2m0.5 0.5h1m0 1h1m0 1h1m0.5 0.5v2m0.5 0.5h1m0 1h1m0 1h2m0 1h1m0 1h2m0 1h1m0 1h1m0 1h2m0 1h1m0 1h2m0 1h1m0 1h1m0 1h1m0 1h1m0 1h1m0.5 0.5v2m0.5 0.5h1m0 1h1m0 1h1m0 1h1m0 1h1m0.5 0.5v2m1 0v2m1 0v2m0.5 0.5h1m0.5 0.5v2m1 0v2m0.5 0.5h1m0 1h1m0.5 0.5v2m0.5 0.5h1m0 1h1m0.5 0.5v2m0.5 0.5h1m0 1h1m0 1h1m0 1h1m0 1h1m0 1h1m0 1h1m0 1h1m0 1h1m0 1h1m0 1h1m0 1h1m0 1h2m0 1h3m0 1h3m0 1h4m0 -1h6m0 -1h5m0 -1h5m0 -1h5m0 -1h8m0 1h11m0 -1h5m0 -1h1m0 -1h1m0 -1h2m0 -1h1m0 -1h1m0 -1h10m0 1h3m0 1h2m0 1h3m0 -1h3m0 -1h3m0 -1h4m0 -1h4m0 -1h2m0 1h2m0 1h2m0 1h1m0 1h2m0 1h2m0 1h2m0 1h2m0 1h2m0 1h2m0 1h2m0 1h2m0 1h2m0 1h3m0 -1h2m0 -1h2m0 -1h2m0 1h2m0 1h2m0 1h2m0 1h2m0 1h2m0 1h2m0 1h2m0 1h2" fill="none" stroke="#2fab6a" stroke-width="1"/>
<rect x="1" y="319" width="1628" height="2" fill="#ff0000"/>
<rect x="1" y="351" width="1628" height="2" fill="#ff0000"/>
<rect x="1" y="379" width="1628" height="1" fill="#c0c0c0"/>
<rect x="1" y="405" width="1449" height="2" fill="#26c626"/>
<rect x="1560" y="405" width="69" height="2" fill="#26c626"/>
<rect x="1" y="427" width="1628" height="2" fill="#0000ff"/>
<rect x="1" y="455" width="1628" height="2" fill="#0000ff"/>
<rect x="1215" y="401" width="85" height="11" fill="#00ff00"/>
<rect x="1623" y="317" width="6" height="6" fill="#ff0000"/>
<rect x="1625" y="319" width="2" height="2" fill="#fff"/>
<rect x="1623" y="349" width="6" height="6" fill="#ff0000"/>
<rect x="1625" y="351" width="2" height="2" fill="#fff"/>
<rect x="1623" y="403" width="6" height="6" fill="#26c626"/>
<rect x="1625" y="405" width="2" height="2" fill="#fff"/>
<rect x="1623" y="425" width="6" height="6" fill="#0000ff"/>
<rect x="1625" y="427" width="2" height="2" fill="#fff"/>
<rect x="1623" y="453" width="6" height="6" fill="#0000ff"/>
<rect x="1625" y="455" width="2" height="2" fill="#fff"/>
<rect x="1" y="260" width="1" height="36" fill="#000"/>
<rect x="-1" y="266" width="5" height="18" fill="#000"/>
<rect x="0" y="267" width="3" height="16" fill="#fff"/>
<rect x="9" y="246" width="1" height="26" fill="#000"/>
<rect x="7" y="255" width="5" height="11" fill="#000"/>
<rect x="8" y="256" width="3" height="9" fill="#fff"/>
<rect x="17" y="164" width="1" height="33" fill="#000"/>
<rect x="15" y="178" width="5" height="19" fill="#000"/>
<rect x="16" y="179" width="3" height="17" fill="#fff"/>
<rect x="25" y="169" width="1" height="13" fill="#000"/>
<rect x="23" y="170" width="5" height="8" fill="#000"/>
<rect x="24" y="171" width="3" height="6" fill="#fff"/>
<rect x="33" y="136" width="1" height="30" fill="#000"/>
<rect x="31" y="138" width="5" height="13" fill="#000"/>
<rect x="32" y="139" width="3" height="11" fill="#fff"/>
<rect x="41" y="126" width="1" height="23" fill="#000"/>
<rect x="39" y="127" width="5" height="12" fill="#000"/>
<rect x="40" y="128" width="3" height="10" fill="#fff"/>
<rect x="49" y="124" width="1" height="20" fill="#000"/>
<rect x="47" y="128" width="5" height="10" fill="#000"/>
<rect x="57" y="134" width="1" height="19" fill="#000"/>
<rect x="55" y="137" width="5" height="1" fill="#000"/>
<rect x="65" y="117" width="1" height="34" fill="#000"/>
<rect x="63" y="130" width="5" height="17" fill="#000"/>
<rect x="64" y="131" width="3" height="15" fill="#fff"/>
<rect x="73" y="131" width="1" height="12" fill="#000"/>
<rect x="71" y="131" width="5" height="7" fill="#000"/>
<rect x="81" y="129" width="1" height="46" fill="#000"/>
<rect x="79" y="137" width="5" height="32" fill="#000"/>
<rect x="89" y="164" width="1" height="15" fill="#000"/>
<rect x="87" y="169" width="5" height="2" fill="#000"/>
<rect x="97" y="160" width="1" height="35" fill="#000"/>
<rect x="95" y="170" width="5" height="14" fill="#000"/>
<rect x="96" y="171" width="3" height="12" fill="#fff"/>
<rect x="105" y="161" width="1" height="13" fill="#000"/>
<rect x="103" y="170" width="5" height="3" fill="#000"/>
<rect x="104" y="171" width="3" height="1" fill="#fff"/>
<rect x="113" y="123" width="1" height="35" fill="#000"/>
<rect x="111" y="124" width="5" height="26" fill="#000"/>
<rect x="112" y="125" width="3" height="24" fill="#fff"/>
<rect x="121" y="117" width="1" height="16" fill="#000"/>
<rect x="119" y="121" width="5" height="4" fill="#000"/>
<rect x="120" y="122" width="3" height="2" fill="#fff"/>
<rect x="129" y="119" width="1" height="25" fill="#000"/>
<rect x="127" y="126" width="5" height="12" fill="#000"/>
<rect x="137" y="126" width="1" height="18" fill="#000"/>
<rect x="135" y="127" width="5" height="11" fill="#000"/>
<rect x="136" y="128" width="3" height="9" fill="#fff"/>
<rect x="209" y="100" width="1" height="63" fill="#000"/>
<rect x="207" y="105" width="5" height="46" fill="#000"/>
<rect x="217" y="141" width="1" height="21" fill="#000"/>
<rect x="215" y="145" width="5" height="5" fill="#000"/>
<rect x="216" y="146" width="3" height="3" fill="#fff"/>
<rect x="225" y="138" width="1" height="40" fill="#000"/>
<rect x="223" y="142" width="5" height="32" fill="#000"/>
<rect x="233" y="163" width="1" height="14" fill="#000"/>
<rect x="231" y="172" width="5" height="4" fill="#000"/>
<rect x="241" y="147" width="1" height="24" fill="#000"/>
<rect x="239" y="152" width="5" height="11" fill="#000"/>
<rect x="249" y="158" width="1" height="12" fill="#000"/>
<rect x="247" y="164" width="5" height="1" fill="#000"/>
<rect x="257" y="114" width="1" height="31" fill="#000"/>
<rect x="255" y="122" width="5" height="18" fill="#000"/>
<rect x="256" y="123" width="3" height="16" fill="#fff"/>
<rect x="265" y="120" width="1" height="21" fill="#000"/>
<rect x="263" y="121" width="5" height="13" fill="#000"/>
<rect x="273" y="115" width="1" height="30" fill="#000"/>
<rect x="271" y="120" width="5" height="20" fill="#000"/>
<rect x="272" y="121" width="3" height="18" fill="#fff"/>
<rect x="281" y="119" width="1" height="12" fill="#000"/>
<rect x="279" y="119" width="5" height="5" fill="#000"/>
<rect x="289" y="116" width="1" height="66" fill="#000"/>
<rect x="287" y="120" width="5" height="25" fill="#000"/>
<rect x="288" y="121" width="3" height="23" fill="#fff"/>
<rect x="297" y="118" width="1" height="12" fill="#000"/>
<rect x="295" y="120" width="5" height="6" fill="#000"/>
<rect x="305" y="110" width="1" height="22" fill="#000"/>
<rect x="303" y="112" width="5" height="6" fill="#000"/>
<rect x="313" y="108" width="1" height="13" fill="#000"/>
<rect x="311" y="113" width="5" height="5" fill="#000"/>
<rect x="312" y="114" width="3" height="3" fill="#fff"/>
<rect x="321" y="118" width="1" height="27" fill="#000"/>
<rect x="319" y="125" width="5" height="6" fill="#000"/>
<rect x="320" y="126" width="3" height="4" fill="#fff"/>
<rect x="329" y="110" width="1" height="16" fill="#000"/>
<rect x="327" y="115" width="5" height="9" fill="#000"/>
<rect x="328" y="116" width="3" height="7" fill="#fff"/>
<rect x="337" y="125" width="1" height="26" fill="#000"/>
<rect x="335" y="132" width="5" height="19" fill="#000"/>
<rect x="336" y="133" width="3" height="17" fill="#fff"/>
<rect x="345" y="131" width="1" height="10" fill="#000"/>
<rect x="343" y="132" width="5" height="6" fill="#000"/>
<rect x="353" y="87" width="1" height="31" fill="#000"/>
<rect x="351" y="92" width="5" height="23" fill="#000"/>
<rect x="352" y="93" width="3" height="21" fill="#fff"/>
<rect x="361" y="89" width="1" height="8" fill="#000"/>
<rect x="359" y="89" width="5" height="3" fill="#000"/>
<rect x="360" y="90" width="3" height="1" fill="#fff"/>
<rect x="369" y="105" width="1" height="24" fill="#000"/>
<rect x="367" y="114" width="5" height="10" fill="#000"/>
<rect x="377" y="118" width="1" height="37" fill="#000"/>
<rect x="375" y="122" width="5" height="22" fill="#000"/>
<rect x="385" y="130" width="1" height="24" fill="#000"/>
<rect x="383" y="138" width="5" height="3" fill="#000"/>
<rect x="393" y="129" width="1" height="13" fill="#000"/>
<rect x="391" y="134" width="5" height="7" fill="#000"/>
<rect x="392" y="135" width="3" height="5" fill="#fff"/>
<rect x="401" y="95" width="1" height="29" fill="#000"/>
<rect x="399" y="99" width="5" height="18" fill="#000"/>
<rect x="400" y="100" width="3" height="16" fill="#fff"/>
<rect x="409" y="100" width="1" height="27" fill="#000"/>
<rect x="407" y="100" width="5" height="25" fill="#000"/>
<rect x="417" y="110" width="1" height="16" fill="#000"/>
<rect x="415" y="116" width="5" height="5" fill="#000"/>
<rect x="416" y="117" width="3" height="3" fill="#fff"/>
<rect x="425" y="112" width="1" height="7" fill="#000"/>
<rect x="423" y="116" width="5" height="3" fill="#000"/>
<rect x="433" y="135" width="1" height="21" fill="#000"/>
<rect x="431" y="140" width="5" height="5" fill="#000"/>
<rect x="432" y="141" width="3" height="3" fill="#fff"/>
<rect x="441" y="136" width="1" height="13" fill="#000"/>
<rect x="439" y="138" width="5" height="10" fill="#000"/>
<rect x="449" y="154" width="1" height="41" fill="#000"/>
<rect x="447" y="160" width="5" height="29" fill="#000"/>
<rect x="457" y="176" width="1" height="25" fill="#000"/>
<rect x="455" y="177" width="5" height="11" fill="#000"/>
<rect x="456" y="178" width="3" height="9" fill="#fff"/>
<rect x="465" y="161" width="1" height="24" fill="#000"/>
<rect x="463" y="172" width="5" height="7" fill="#000"/>
<rect x="464" y="173" width="3" height="5" fill="#fff"/>
<rect x="473" y="167" width="1" height="10" fill="#000"/>
<rect x="471" y="172" width="5" height="2" fill="#000"/>
<rect x="481" y="195" width="1" height="37" fill="#000"/>
<rect x="479" y="195" width="5" height="21" fill="#000"/>
<rect x="489" y="210" width="1" height="12" fill="#000"/>
<rect x="487" y="215" width="5" height="3" fill="#000"/>
<rect x="497" y="226" width="1" height="35" fill="#000"/>
<rect x="495" y="245" width="5" height="1" fill="#000"/>
<rect x="505" y="243" width="1" height="13" fill="#000"/>
<rect x="503" y="246" width="5" height="9" fill="#000"/>
<rect x="513" y="313" width="1" height="24" fill="#000"/>
<rect x="511" y="329" width="5" height="6" fill="#000"/>
<rect x="512" y="330" width="3" height="4" fill="#fff"/>
<rect x="521" y="318" width="1" height="16" fill="#000"/>
<rect x="519" y="327" width="5" height="5" fill="#000"/>
<rect x="529" y="359" width="1" height="70" fill="#000"/>
<rect x="527" y="376" width="5" height="41" fill="#000"/>
<rect x="537" y="410" width="1" height="16" fill="#000"/>
<rect x="535" y="415" width="5" height="11" fill="#000"/>
<rect x="545" y="434" width="1" height="89" fill="#000"/>
<rect x="543" y="438" width="5" height="85" fill="#000"/>
<rect x="544" y="439" width="3" height="83" fill="#fff"/>
<rect x="553" y="425" width="1" height="35" fill="#000"/>
<rect x="551" y="433" width="5" height="10" fill="#000"/>
<rect x="552" y="434" width="3" height="8" fill="#fff"/>
<rect x="561" y="435" width="1" height="38" fill="#000"/>
<rect x="559" y="440" width="5" height="12" fill="#000"/>
<rect x="569" y="433" width="1" height="27" fill="#000"/>
<rect x="567" y="435" width="5" height="17" fill="#000"/>
<rect x="568" y="436" width="3" height="15" fill="#fff"/>
<rect x="577" y="398" width="1" height="49" fill="#000"/>
<rect x="575" y="420" width="5" height="18" fill="#000"/>
<rect x="576" y="421" width="3" height="16" fill="#fff"/>
<rect x="585" y="414" width="1" height="18" fill="#000"/>
<rect x="583" y="421" width="5" height="6" fill="#000"/>
<rect x="593" y="404" width="1" height="40" fill="#000"/>
<rect x="591" y="416" width="5" height="15" fill="#000"/>
<rect x="601" y="421" width="1" height="29" fill="#000"/>
<rect x="599" y="432" width="5" height="12" fill="#000"/>
<rect x="609" y="427" width="1" height="35" fill="#000"/>
<rect x="607" y="445" width="5" height="17" fill="#000"/>
<rect x="608" y="446" width="3" height="15" fill="#fff"/>
<rect x="617" y="439" width="1" height="44" fill="#000"/>
<rect x="615" y="446" width="5" height="36" fill="#000"/>
<rect x="625" y="485" width="1" height="35" fill="#000"/>
<rect x="623" y="503" width="5" height="12" fill="#000"/>
<rect x="633" y="509" width="1" height="20" fill="#000"/>
<rect x="631" y="514" width="5" height="11" fill="#000"/>
<rect x="641" y="469" width="1" height="49" fill="#000"/>
<rect x="639" y="470" width="5" height="42" fill="#000"/>
<rect x="649" y="504" width="1" height="36" fill="#000"/>
<rect x="647" y="508" width="5" height="16" fill="#000"/>
<rect x="657" y="503" width="1" height="69" fill="#000"/>
<rect x="655" y="529" width="5" height="43" fill="#000"/>
<rect x="656" y="530" width="3" height="41" fill="#fff"/>
<rect x="665" y="491" width="1" height="40" fill="#000"/>
<rect x="663" y="497" width="5" height="30" fill="#000"/>
<rect x="664" y="498" width="3" height="28" fill="#fff"/>
<rect x="673" y="470" width="1" height="51" fill="#000"/>
<rect x="671" y="473" width="5" height="26" fill="#000"/>
<rect x="672" y="474" width="3" height="24" fill="#fff"/>
<rect x="681" y="460" width="1" height="21" fill="#000"/>
<rect x="679" y="471" width="5" height="5" fill="#000"/>
<rect x="680" y="472" width="3" height="3" fill="#fff"/>
<rect x="689" y="408" width="1" height="40" fill="#000"/>
<rect x="687" y="413" width="5" height="28" fill="#000"/>
<rect x="688" y="414" width="3" height="26" fill="#fff"/>
<rect x="697" y="394" width="1" height="20" fill="#000"/>
<rect x="695" y="406" width="5" height="8" fill="#000"/>
<rect x="696" y="407" width="3" height="6" fill="#fff"/>
<rect x="705" y="395" width="1" height="27" fill="#000"/>
<rect x="703" y="402" width="5" height="6" fill="#000"/>
<rect x="704" y="403" width="3" height="4" fill="#fff"/>
<rect x="713" y="394" width="1" height="22" fill="#000"/>
<rect x="711" y="402" width="5" height="2" fill="#000"/>
<rect x="721" y="403" width="1" height="24" fill="#000"/>
<rect x="719" y="406" width="5" height="14" fill="#000"/>
<rect x="720" y="407" width="3" height="12" fill="#fff"/>
<rect x="729" y="395" width="1" height="16" fill="#000"/>
<rect x="727" y="400" width="5" height="7" fill="#000"/>
<rect x="728" y="401" width="3" height="5" fill="#fff"/>
<rect x="737" y="395" width="1" height="44" fill="#000"/>
<rect x="735" y="396" width="5" height="37" fill="#000"/>
<rect x="745" y="428" width="1" height="13" fill="#000"/>
<rect x="743" y="432" width="5" height="2" fill="#000"/>
<rect x="753" y="410" width="1" height="34" fill="#000"/>
<rect x="751" y="416" width="5" height="20" fill="#000"/>
<rect x="752" y="417" width="3" height="18" fill="#fff"/>
<rect x="761" y="406" width="1" height="13" fill="#000"/>
<rect x="759" y="415" width="5" height="3" fill="#000"/>
<rect x="760" y="416" width="3" height="1" fill="#fff"/>
<rect x="769" y="494" width="1" height="36" fill="#000"/>
<rect x="767" y="503" width="5" height="4" fill="#000"/>
<rect x="768" y="504" width="3" height="2" fill="#fff"/>
<rect x="777" y="461" width="1" height="54" fill="#000"/>
<rect x="775" y="469" width="5" height="37" fill="#000"/>
<rect x="776" y="470" width="3" height="35" fill="#fff"/>
<rect x="785" y="456" width="1" height="26" fill="#000"/>
<rect x="783" y="466" width="5" height="3" fill="#000"/>
<rect x="793" y="468" width="1" height="17" fill="#000"/>
<rect x="791" y="468" width="5" height="3" fill="#000"/>
<rect x="801" y="456" width="1" height="35" fill="#000"/>
<rect x="799" y="470" width="5" height="11" fill="#000"/>
<rect x="809" y="478" width="1" height="14" fill="#000"/>
<rect x="807" y="479" width="5" height="5" fill="#000"/>
<rect x="817" y="483" width="1" height="34" fill="#000"/>
<rect x="815" y="483" width="5" height="14" fill="#000"/>
<rect x="825" y="469" width="1" height="30" fill="#000"/>
<rect x="823" y="470" width="5" height="25" fill="#000"/>
<rect x="824" y="471" width="3" height="23" fill="#fff"/>
<rect x="833" y="436" width="1" height="29" fill="#000"/>
<rect x="831" y="442" width="5" height="13" fill="#000"/>
<rect x="841" y="452" width="1" height="47" fill="#000"/>
<rect x="839" y="455" width="5" height="21" fill="#000"/>
<rect x="849" y="478" width="1" height="24" fill="#000"/>
<rect x="847" y="488" width="5" height="10" fill="#000"/>
<rect x="848" y="489" width="3" height="8" fill="#fff"/>
<rect x="857" y="483" width="1" height="16" fill="#000"/>
<rect x="855" y="487" width="5" height="3" fill="#000"/>
<rect x="856" y="488" width="3" height="1" fill="#fff"/>
<rect x="865" y="469" width="1" height="40" fill="#000"/>
<rect x="863" y="487" width="5" height="22" fill="#000"/>
<rect x="864" y="488" width="3" height="20" fill="#fff"/>
<rect x="873" y="486" width="1" height="16" fill="#000"/>
<rect x="871" y="487" width="5" height="6" fill="#000"/>
<rect x="881" y="442" width="1" height="44" fill="#000"/>
<rect x="879" y="459" width="5" height="25" fill="#000"/>
<rect x="880" y="460" width="3" height="23" fill="#fff"/>
<rect x="889" y="352" width="1" height="104" fill="#000"/>
<rect x="887" y="372" width="5" height="83" fill="#000"/>
<rect x="888" y="373" width="3" height="81" fill="#fff"/>
<rect x="897" y="350" width="1" height="32" fill="#000"/>
<rect x="895" y="365" width="5" height="13" fill="#000"/>
<rect x="896" y="366" width="3" height="11" fill="#fff"/>
<rect x="905" y="348" width="1" height="29" fill="#000"/>
<rect x="903" y="363" width="5" height="14" fill="#000"/>
<rect x="913" y="337" width="1" height="24" fill="#000"/>
<rect x="911" y="344" width="5" height="11" fill="#000"/>
<rect x="921" y="350" width="1" height="20" fill="#000"/>
<rect x="919" y="357" width="5" height="2" fill="#000"/>
<rect x="929" y="333" width="1" height="26" fill="#000"/>
<rect x="927" y="345" width="5" height="6" fill="#000"/>
<rect x="937" y="343" width="1" height="13" fill="#000"/>
<rect x="935" y="349" width="5" height="2" fill="#000"/>
<rect x="945" y="321" width="1" height="35" fill="#000"/>
<rect x="943" y="335" width="5" height="14" fill="#000"/>
<rect x="953" y="342" width="1" height="13" fill="#000"/>
<rect x="951" y="349" width="5" height="4" fill="#000"/>
<rect x="961" y="292" width="1" height="56" fill="#000"/>
<rect x="959" y="304" width="5" height="30" fill="#000"/>
<rect x="960" y="305" width="3" height="28" fill="#fff"/>
<rect x="969" y="289" width="1" height="18" fill="#000"/>
<rect x="967" y="295" width="5" height="6" fill="#000"/>
<rect x="968" y="296" width="3" height="4" fill="#fff"/>
<rect x="977" y="268" width="1" height="47" fill="#000"/>
<rect x="975" y="269" width="5" height="27" fill="#000"/>
<rect x="985" y="288" width="1" height="15" fill="#000"/>
<rect x="983" y="296" width="5" height="4" fill="#000"/>
<rect x="993" y="281" width="1" height="17" fill="#000"/>
<rect x="991" y="285" width="5" height="4" fill="#000"/>
<rect x="992" y="286" width="3" height="2" fill="#fff"/>
<rect x="1001" y="262" width="1" height="24" fill="#000"/>
<rect x="999" y="271" width="5" height="13" fill="#000"/>
<rect x="1000" y="272" width="3" height="11" fill="#fff"/>
<rect x="1009" y="283" width="1" height="31" fill="#000"/>
<rect x="1007" y="285" width="5" height="14" fill="#000"/>
<rect x="1017" y="294" width="1" height="14" fill="#000"/>
<rect x="1015" y="299" width="5" height="4" fill="#000"/>
<rect x="1025" y="303" width="1" height="26" fill="#000"/>
<rect x="1023" y="304" width="5" height="21" fill="#000"/>
<rect x="1033" y="324" width="1" height="23" fill="#000"/>
<rect x="1031" y="324" width="5" height="15" fill="#000"/>
<rect x="1041" y="319" width="1" height="18" fill="#000"/>
<rect x="1039" y="329" width="5" height="3" fill="#000"/>
<rect x="1049" y="329" width="1" height="13" fill="#000"/>
<rect x="1047" y="331" width="5" height="10" fill="#000"/>
<rect x="1057" y="328" width="1" height="51" fill="#000"/>
<rect x="1055" y="337" width="5" height="42" fill="#000"/>
<rect x="1065" y="367" width="1" height="20" fill="#000"/>
<rect x="1063" y="370" width="5" height="8" fill="#000"/>
<rect x="1064" y="371" width="3" height="6" fill="#fff"/>
<rect x="1073" y="356" width="1" height="17" fill="#000"/>
<rect x="1071" y="363" width="5" height="6" fill="#000"/>
<rect x="1081" y="364" width="1" height="16" fill="#000"/>
<rect x="1079" y="368" width="5" height="10" fill="#000"/>
<rect x="1089" y="365" width="1" height="40" fill="#000"/>
<rect x="1087" y="380" width="5" height="22" fill="#000"/>
<rect x="1097" y="386" width="1" height="29" fill="#000"/>
<rect x="1095" y="401" width="5" height="12" fill="#000"/>
<rect x="1105" y="377" width="1" height="25" fill="#000"/>
<rect x="1103" y="389" width="5" height="2" fill="#000"/>
<rect x="1113" y="386" width="1" height="12" fill="#000"/>
<rect x="1111" y="388" width="5" height="6" fill="#000"/>
<rect x="1121" y="399" width="1" height="39" fill="#000"/>
<rect x="1119" y="412" width="5" height="12" fill="#000"/>
<rect x="1129" y="421" width="1" height="20" fill="#000"/>
<rect x="1127" y="424" width="5" height="17" fill="#000"/>
<rect x="1137" y="415" width="1" height="19" fill="#000"/>
<rect x="1135" y="427" width="5" height="3" fill="#000"/>
<rect x="1145" y="423" width="1" height="15" fill="#000"/>
<rect x="1143" y="426" width="5" height="6" fill="#000"/>
<rect x="1144" y="427" width="3" height="4" fill="#fff"/>
<rect x="1153" y="425" width="1" height="28" fill="#000"/>
<rect x="1151" y="432" width="5" height="4" fill="#000"/>
<rect x="1152" y="433" width="3" height="2" fill="#fff"/>
<rect x="1161" y="423" width="1" height="16" fill="#000"/>
<rect x="1159" y="429" width="5" height="5" fill="#000"/>
<rect x="1160" y="430" width="3" height="3" fill="#fff"/>
<rect x="1169" y="419" width="1" height="38" fill="#000"/>
<rect x="1167" y="420" width="5" height="30" fill="#000"/>
<rect x="1168" y="421" width="3" height="28" fill="#fff"/>
<rect x="1177" y="409" width="1" height="20" fill="#000"/>
<rect x="1175" y="422" width="5" height="2" fill="#000"/>
<rect x="1185" y="427" width="1" height="32" fill="#000"/>
<rect x="1183" y="428" width="5" height="21" fill="#000"/>
<rect x="1184" y="429" width="3" height="19" fill="#fff"/>
<rect x="1193" y="418" width="1" height="17" fill="#000"/>
<rect x="1191" y="428" width="5" height="7" fill="#000"/>
<rect x="1201" y="430" width="1" height="38" fill="#000"/>
<rect x="1199" y="437" width="5" height="31" fill="#000"/>
<rect x="1200" y="438" width="3" height="29" fill="#fff"/>
<rect x="1209" y="402" width="1" height="42" fill="#000"/>
<rect x="1207" y="411" width="5" height="28" fill="#000"/>
<rect x="1208" y="412" width="3" height="26" fill="#fff"/>
<rect x="1217" y="412" width="1" height="30" fill="#000"/>
<rect x="1215" y="414" width="5" height="20" fill="#000"/>
<rect x="1225" y="424" width="1" height="57" fill="#000"/>
<rect x="1223" y="431" width="5" height="25" fill="#000"/>
<rect x="1233" y="412" width="1" height="54" fill="#000"/>
<rect x="1231" y="427" width="5" height="20" fill="#000"/>
<rect x="1232" y="428" width="3" height="18" fill="#fff"/>
<rect x="1241" y="425" width="1" height="23" fill="#000"/>
<rect x="1239" y="427" width="5" height="18" fill="#000"/>
<rect x="1249" y="444" width="1" height="27" fill="#000"/>
<rect x="1247" y="462" width="5" height="3" fill="#000"/>
<rect x="1248" y="463" width="3" height="1" fill="#fff"/>
<rect x="1257" y="455" width="1" height="18" fill="#000"/>
<rect x="1255" y="463" width="5" height="7" fill="#000"/>
<rect x="1265" y="448" width="1" height="40" fill="#000"/>
<rect x="1263" y="459" width="5" height="23" fill="#000"/>
<rect x="1264" y="460" width="3" height="21" fill="#fff"/>
<rect x="1273" y="449" width="1" height="17" fill="#000"/>
<rect x="1271" y="452" width="5" height="9" fill="#000"/>
<rect x="1272" y="453" width="3" height="7" fill="#fff"/>
<rect x="1281" y="389" width="1" height="48" fill="#000"/>
<rect x="1279" y="391" width="5" height="41" fill="#000"/>
<rect x="1280" y="392" width="3" height="39" fill="#fff"/>
<rect x="1289" y="375" width="1" height="17" fill="#000"/>
<rect x="1287" y="379" width="5" height="10" fill="#000"/>
<rect x="1288" y="380" width="3" height="8" fill="#fff"/>
</g>
<rect x="0" y="317" width="6" height="6" fill="#ff0000"/>
<rect x="2" y="319" width="2" height="2" fill="#fff"/>
<rect x="0" y="349" width="6" height="6" fill="#ff0000"/>
<rect x="2" y="351" width="2" height="2" fill="#fff"/>
<rect x="0" y="403" width="6" height="6" fill="#26c626"/>
<rect x="2" y="405" width="2" height="2" fill="#fff"/>
<rect x="0" y="425" width="6" height="6" fill="#0000ff"/>
<rect x="2" y="427" width="2" height="2" fill="#fff"/>
<rect x="0" y="453" width="6" height="6" fill="#0000ff"/>
<rect x="2" y="455" width="2" height="2" fill="#fff"/>
<path d="M1297 32h10l-5 5z" fill="#c0c0c0" shape-rendering="geometricPrecision"/>
<rect x="1450" y="406" width="8" height="1" fill="#ff0000"/>
<rect x="1457" y="404" width="4" height="5" fill="#ff0000"/>
<rect x="1458" y="405" width="2" height="3" fill="#fff"/>
<rect x="1460" y="390" width="100" height="33" fill="#ff0000"/>
<rect x="1461" y="391" width="98" height="31" fill="#fff"/>
<text x="1462.5" y="417" font-size="28" fill="#ff0000" textLength="95" lengthAdjust="spacingAndGlyphs">26179.5</text>
<g shape-rendering="geometricPrecision"><text x="1396.1" y="497.6" font-size="31" fill="#145014" textLength="156" lengthAdjust="spacingAndGlyphs" font-family="&quot;Liberation Sans&quot;, &quot;Noto Sans CJK SC&quot;, sans-serif">多空转折点</text><text x="1395" y="496.5" font-size="31" fill="#00ff00" textLength="156" lengthAdjust="spacingAndGlyphs" font-family="&quot;Liberation Sans&quot;, &quot;Noto Sans CJK SC&quot;, sans-serif">多空转折点</text></g>
<g>
<rect x="4" y="51" width="219" height="64" fill="#fff"/>
<defs><linearGradient id="gA" gradientUnits="userSpaceOnUse" x1="0" y1="51" x2="0" y2="115"><stop offset="0" stop-color="#fa4e4e"/><stop offset="0.36" stop-color="#e23636"/><stop offset="0.42" stop-color="#dc2e2e"/><stop offset="1" stop-color="#ae0000"/></linearGradient></defs>
<path d="M4 51H56V75H113V115H4Z" fill="url(#gA)"/>
<path d="M171 51H223V115H115V75H171Z" fill="url(#gA)"/>
<path d="M4.5 51.5H55.5V75.5H112.5V114.5H4.5Z" fill="none" stroke="#b40000" stroke-width="1"/>
<path d="M171.5 51.5H222.5V114.5H115.5V75.5H171.5Z" fill="none" stroke="#b40000" stroke-width="1"/>
<rect x="5" y="52" width="50" height="1" fill="#ff5e5e"/>
<rect x="172" y="52" width="50" height="1" fill="#ff5e5e"/>
<rect x="8" y="74" width="44" height="1" fill="#900000"/>
<rect x="8" y="75" width="44" height="1" fill="#ff7474"/>
<rect x="175" y="74" width="44" height="1" fill="#900000"/>
<rect x="175" y="75" width="44" height="1" fill="#ff7474"/>
<rect x="58" y="52" width="111" height="21" fill="#adadad"/>
<rect x="59" y="53" width="109" height="19" fill="#fff"/>
<rect x="59" y="53" width="20" height="19" fill="#e6e6e6"/>
<rect x="79" y="53" width="1" height="19" fill="#adadad"/>
<rect x="148" y="53" width="20" height="19" fill="#e6e6e6"/>
<rect x="147" y="53" width="1" height="19" fill="#adadad"/>
<path d="M65.500 60h7l-3.500 4z" fill="#000" shape-rendering="geometricPrecision"/>
<path d="M154.500 64h7l-3.500-4z" fill="#000" shape-rendering="geometricPrecision"/>
<text x="144" y="66.5" font-size="13" fill="#000" text-anchor="end" textLength="24" lengthAdjust="spacingAndGlyphs">1.00</text>
<text x="16.5" y="67" font-size="12.5" fill="#fff" textLength="25" lengthAdjust="spacingAndGlyphs">SELL</text>
<text x="185" y="67" font-size="12.5" fill="#fff" textLength="22.5" lengthAdjust="spacingAndGlyphs">BUY</text>
<text x="20.5" y="106" font-size="11.5" fill="#fff" textLength="33" lengthAdjust="spacingAndGlyphs" font-weight="bold">26401</text>
<text x="130.5" y="106" font-size="11.5" fill="#fff" textLength="34" lengthAdjust="spacingAndGlyphs" font-weight="bold">26414</text>
<text x="58.5" y="106" font-size="32.5" fill="#fff" textLength="24" lengthAdjust="spacingAndGlyphs">.0</text>
<text x="169" y="106" font-size="32.5" fill="#fff" textLength="24" lengthAdjust="spacingAndGlyphs">.0</text>
</g>
<g class="k">
<path d="M4 41.500h7l-3.500-4.500z" fill="#000" shape-rendering="geometricPrecision"/>
<text x="16" y="43" font-size="9.8" fill="#000" textLength="188" lengthAdjust="spacingAndGlyphs">HK50-,H4  26324.0 26438.5 26299.5 26402.5</text>
<rect x="1630" y="53" width="2" height="1" fill="#000"/>
<text x="1635" y="57" font-size="9.8" fill="#000" textLength="33" lengthAdjust="spacingAndGlyphs">29116.0</text>
<rect x="1630" y="86" width="2" height="1" fill="#000"/>
<text x="1635" y="90" font-size="9.8" fill="#000" textLength="33" lengthAdjust="spacingAndGlyphs">28844.0</text>
<rect x="1630" y="119" width="2" height="1" fill="#000"/>
<text x="1635" y="123" font-size="9.8" fill="#000" textLength="33" lengthAdjust="spacingAndGlyphs">28564.0</text>
<rect x="1630" y="152" width="2" height="1" fill="#000"/>
<text x="1635" y="156" font-size="9.8" fill="#000" textLength="33" lengthAdjust="spacingAndGlyphs">28292.0</text>
<rect x="1630" y="185" width="2" height="1" fill="#000"/>
<text x="1635" y="189" font-size="9.8" fill="#000" textLength="33" lengthAdjust="spacingAndGlyphs">28020.0</text>
<rect x="1630" y="218" width="2" height="1" fill="#000"/>
<text x="1635" y="222" font-size="9.8" fill="#000" textLength="33" lengthAdjust="spacingAndGlyphs">27740.0</text>
<rect x="1630" y="251" width="2" height="1" fill="#000"/>
<text x="1635" y="255" font-size="9.8" fill="#000" textLength="33" lengthAdjust="spacingAndGlyphs">27468.0</text>
<rect x="1630" y="284" width="2" height="1" fill="#000"/>
<text x="1635" y="288" font-size="9.8" fill="#000" textLength="33" lengthAdjust="spacingAndGlyphs">27196.0</text>
<rect x="1630" y="317" width="2" height="1" fill="#000"/>
<rect x="1630" y="350" width="2" height="1" fill="#000"/>
<rect x="1630" y="383" width="2" height="1" fill="#000"/>
<text x="1635" y="387" font-size="9.8" fill="#000" textLength="33" lengthAdjust="spacingAndGlyphs">26372.0</text>
<rect x="1630" y="416" width="2" height="1" fill="#000"/>
<text x="1635" y="420" font-size="9.8" fill="#000" textLength="33" lengthAdjust="spacingAndGlyphs">26092.0</text>
<rect x="1630" y="449" width="2" height="1" fill="#000"/>
<text x="1635" y="453" font-size="9.8" fill="#000" textLength="33" lengthAdjust="spacingAndGlyphs">25820.0</text>
<rect x="1630" y="482" width="2" height="1" fill="#000"/>
<text x="1635" y="486" font-size="9.8" fill="#000" textLength="33" lengthAdjust="spacingAndGlyphs">25548.0</text>
<rect x="1630" y="515" width="2" height="1" fill="#000"/>
<text x="1635" y="519" font-size="9.8" fill="#000" textLength="33" lengthAdjust="spacingAndGlyphs">25268.0</text>
<rect x="1630" y="548" width="2" height="1" fill="#000"/>
<text x="1635" y="552" font-size="9.8" fill="#000" textLength="33" lengthAdjust="spacingAndGlyphs">24996.0</text>
<rect x="1630" y="581" width="2" height="1" fill="#000"/>
<text x="1635" y="585" font-size="9.8" fill="#000" textLength="33" lengthAdjust="spacingAndGlyphs">24724.0</text>
</g>
<rect x="1631" y="314" width="41" height="11" fill="#ff0000"/>
<text x="1635" y="323" font-size="9.8" fill="#fff" textLength="33" lengthAdjust="spacingAndGlyphs">26894.3</text>
<rect x="1631" y="346" width="41" height="11" fill="#ff0000"/>
<text x="1635" y="355" font-size="9.8" fill="#fff" textLength="33" lengthAdjust="spacingAndGlyphs">26628.3</text>
<rect x="1631" y="374" width="41" height="11" fill="#000000"/>
<text x="1635" y="383" font-size="9.8" fill="#fff" textLength="33" lengthAdjust="spacingAndGlyphs">26402.5</text>
<rect x="1631" y="400" width="41" height="11" fill="#26c626"/>
<text x="1635" y="409" font-size="9.8" fill="#fff" textLength="33" lengthAdjust="spacingAndGlyphs">26179.5</text>
<rect x="1631" y="422" width="41" height="11" fill="#0000ff"/>
<text x="1635" y="431" font-size="9.8" fill="#fff" textLength="33" lengthAdjust="spacingAndGlyphs">25996.6</text>
<rect x="1631" y="450" width="41" height="11" fill="#0000ff"/>
<text x="1635" y="459" font-size="9.8" fill="#fff" textLength="33" lengthAdjust="spacingAndGlyphs">25763.9</text>
<g class="k">
<text x="5" y="599" font-size="9.8" fill="#000" textLength="129" lengthAdjust="spacingAndGlyphs">MACD(12,26,9) -62.32 -134.35</text>
<rect x="9" y="651" width="1" height="1" fill="#c0c0c0"/>
<rect x="17" y="642" width="1" height="10" fill="#c0c0c0"/>
<rect x="25" y="633" width="1" height="19" fill="#c0c0c0"/>
<rect x="33" y="622" width="1" height="30" fill="#c0c0c0"/>
<rect x="41" y="613" width="1" height="39" fill="#c0c0c0"/>
<rect x="49" y="607" width="1" height="45" fill="#c0c0c0"/>
<rect x="57" y="603" width="1" height="49" fill="#c0c0c0"/>
<rect x="65" y="600" width="1" height="52" fill="#c0c0c0"/>
<rect x="73" y="599" width="1" height="53" fill="#c0c0c0"/>
<rect x="81" y="602" width="1" height="50" fill="#c0c0c0"/>
<rect x="89" y="605" width="1" height="47" fill="#c0c0c0"/>
<rect x="97" y="608" width="1" height="44" fill="#c0c0c0"/>
<rect x="105" y="611" width="1" height="41" fill="#c0c0c0"/>
<rect x="113" y="608" width="1" height="44" fill="#c0c0c0"/>
<rect x="121" y="607" width="1" height="45" fill="#c0c0c0"/>
<rect x="129" y="608" width="1" height="44" fill="#c0c0c0"/>
<rect x="137" y="608" width="1" height="44" fill="#c0c0c0"/>
<rect x="145" y="602" width="1" height="50" fill="#c0c0c0"/>
<rect x="153" y="599" width="1" height="53" fill="#c0c0c0"/>
<rect x="161" y="598" width="1" height="54" fill="#c0c0c0"/>
<rect x="169" y="597" width="1" height="55" fill="#c0c0c0"/>
<rect x="177" y="598" width="1" height="54" fill="#c0c0c0"/>
<rect x="185" y="599" width="1" height="53" fill="#c0c0c0"/>
<rect x="193" y="600" width="1" height="52" fill="#c0c0c0"/>
<rect x="201" y="604" width="1" height="48" fill="#c0c0c0"/>
<rect x="209" y="613" width="1" height="39" fill="#c0c0c0"/>
<rect x="217" y="619" width="1" height="33" fill="#c0c0c0"/>
<rect x="225" y="628" width="1" height="24" fill="#c0c0c0"/>
<rect x="233" y="636" width="1" height="16" fill="#c0c0c0"/>
<rect x="241" y="640" width="1" height="12" fill="#c0c0c0"/>
<rect x="249" y="644" width="1" height="8" fill="#c0c0c0"/>
<rect x="257" y="643" width="1" height="9" fill="#c0c0c0"/>
<rect x="265" y="643" width="1" height="9" fill="#c0c0c0"/>
<rect x="273" y="642" width="1" height="10" fill="#c0c0c0"/>
<rect x="281" y="641" width="1" height="11" fill="#c0c0c0"/>
<rect x="289" y="640" width="1" height="12" fill="#c0c0c0"/>
<rect x="297" y="640" width="1" height="12" fill="#c0c0c0"/>
<rect x="305" y="641" width="1" height="11" fill="#c0c0c0"/>
<rect x="313" y="641" width="1" height="11" fill="#c0c0c0"/>
<rect x="321" y="640" width="1" height="12" fill="#c0c0c0"/>
<rect x="329" y="640" width="1" height="12" fill="#c0c0c0"/>
<rect x="337" y="642" width="1" height="10" fill="#c0c0c0"/>
<rect x="345" y="644" width="1" height="8" fill="#c0c0c0"/>
<rect x="353" y="641" width="1" height="11" fill="#c0c0c0"/>
<rect x="361" y="638" width="1" height="14" fill="#c0c0c0"/>
<rect x="369" y="641" width="1" height="11" fill="#c0c0c0"/>
<rect x="377" y="644" width="1" height="8" fill="#c0c0c0"/>
<rect x="385" y="647" width="1" height="5" fill="#c0c0c0"/>
<rect x="393" y="648" width="1" height="4" fill="#c0c0c0"/>
<rect x="401" y="645" width="1" height="7" fill="#c0c0c0"/>
<rect x="409" y="646" width="1" height="6" fill="#c0c0c0"/>
<rect x="417" y="646" width="1" height="6" fill="#c0c0c0"/>
<rect x="425" y="646" width="1" height="6" fill="#c0c0c0"/>
<rect x="433" y="649" width="1" height="3" fill="#c0c0c0"/>
<rect x="441" y="651" width="1" height="1" fill="#c0c0c0"/>
<rect x="449" y="651" width="1" height="6" fill="#c0c0c0"/>
<rect x="457" y="651" width="1" height="10" fill="#c0c0c0"/>
<rect x="465" y="651" width="1" height="13" fill="#c0c0c0"/>
<rect x="473" y="651" width="1" height="14" fill="#c0c0c0"/>
<rect x="481" y="651" width="1" height="20" fill="#c0c0c0"/>
<rect x="489" y="651" width="1" height="25" fill="#c0c0c0"/>
<rect x="497" y="651" width="1" height="31" fill="#c0c0c0"/>
<rect x="505" y="651" width="1" height="37" fill="#c0c0c0"/>
<rect x="513" y="651" width="1" height="49" fill="#c0c0c0"/>
<rect x="521" y="651" width="1" height="58" fill="#c0c0c0"/>
<rect x="529" y="651" width="1" height="73" fill="#c0c0c0"/>
<rect x="537" y="651" width="1" height="86" fill="#c0c0c0"/>
<rect x="545" y="651" width="1" height="96" fill="#c0c0c0"/>
<rect x="553" y="651" width="1" height="102" fill="#c0c0c0"/>
<rect x="561" y="651" width="1" height="108" fill="#c0c0c0"/>
<rect x="569" y="651" width="1" height="109" fill="#c0c0c0"/>
<rect x="577" y="651" width="1" height="108" fill="#c0c0c0"/>
<rect x="585" y="651" width="1" height="106" fill="#c0c0c0"/>
<rect x="593" y="651" width="1" height="104" fill="#c0c0c0"/>
<rect x="601" y="651" width="1" height="102" fill="#c0c0c0"/>
<rect x="609" y="651" width="1" height="100" fill="#c0c0c0"/>
<rect x="617" y="651" width="1" height="101" fill="#c0c0c0"/>
<rect x="625" y="651" width="1" height="105" fill="#c0c0c0"/>
<rect x="633" y="651" width="1" height="107" fill="#c0c0c0"/>
<rect x="641" y="651" width="1" height="105" fill="#c0c0c0"/>
<rect x="649" y="651" width="1" height="106" fill="#c0c0c0"/>
<rect x="657" y="651" width="1" height="104" fill="#c0c0c0"/>
<rect x="665" y="651" width="1" height="99" fill="#c0c0c0"/>
<rect x="673" y="651" width="1" height="91" fill="#c0c0c0"/>
<rect x="681" y="651" width="1" height="84" fill="#c0c0c0"/>
<rect x="689" y="651" width="1" height="71" fill="#c0c0c0"/>
<rect x="697" y="651" width="1" height="59" fill="#c0c0c0"/>
<rect x="705" y="651" width="1" height="49" fill="#c0c0c0"/>
<rect x="713" y="651" width="1" height="40" fill="#c0c0c0"/>
<rect x="721" y="651" width="1" height="33" fill="#c0c0c0"/>
<rect x="729" y="651" width="1" height="27" fill="#c0c0c0"/>
<rect x="737" y="651" width="1" height="25" fill="#c0c0c0"/>
<rect x="745" y="651" width="1" height="24" fill="#c0c0c0"/>
<rect x="753" y="651" width="1" height="20" fill="#c0c0c0"/>
<rect x="761" y="651" width="1" height="17" fill="#c0c0c0"/>
<rect x="769" y="651" width="1" height="24" fill="#c0c0c0"/>
<rect x="777" y="651" width="1" height="25" fill="#c0c0c0"/>
<rect x="785" y="651" width="1" height="26" fill="#c0c0c0"/>
<rect x="793" y="651" width="1" height="27" fill="#c0c0c0"/>
<rect x="801" y="651" width="1" height="28" fill="#c0c0c0"/>
<rect x="809" y="651" width="1" height="29" fill="#c0c0c0"/>
<rect x="817" y="651" width="1" height="31" fill="#c0c0c0"/>
<rect x="825" y="651" width="1" height="29" fill="#c0c0c0"/>
<rect x="833" y="651" width="1" height="26" fill="#c0c0c0"/>
<rect x="841" y="651" width="1" height="25" fill="#c0c0c0"/>
<rect x="849" y="651" width="1" height="26" fill="#c0c0c0"/>
<rect x="857" y="651" width="1" height="26" fill="#c0c0c0"/>
<rect x="865" y="651" width="1" height="26" fill="#c0c0c0"/>
<rect x="873" y="651" width="1" height="26" fill="#c0c0c0"/>
<rect x="881" y="651" width="1" height="22" fill="#c0c0c0"/>
<rect x="889" y="651" width="1" height="9" fill="#c0c0c0"/>
<rect x="897" y="651" width="1" height="1" fill="#c0c0c0"/>
<rect x="905" y="643" width="1" height="9" fill="#c0c0c0"/>
<rect x="913" y="635" width="1" height="17" fill="#c0c0c0"/>
<rect x="921" y="630" width="1" height="22" fill="#c0c0c0"/>
<rect x="929" y="625" width="1" height="27" fill="#c0c0c0"/>
<rect x="937" y="621" width="1" height="31" fill="#c0c0c0"/>
<rect x="945" y="619" width="1" height="33" fill="#c0c0c0"/>
<rect x="953" y="618" width="1" height="34" fill="#c0c0c0"/>
<rect x="961" y="612" width="1" height="40" fill="#c0c0c0"/>
<rect x="969" y="607" width="1" height="45" fill="#c0c0c0"/>
<rect x="977" y="603" width="1" height="49" fill="#c0c0c0"/>
<rect x="985" y="602" width="1" height="50" fill="#c0c0c0"/>
<rect x="993" y="599" width="1" height="53" fill="#c0c0c0"/>
<rect x="1001" y="597" width="1" height="55" fill="#c0c0c0"/>
<rect x="1009" y="598" width="1" height="54" fill="#c0c0c0"/>
<rect x="1017" y="600" width="1" height="52" fill="#c0c0c0"/>
<rect x="1025" y="605" width="1" height="47" fill="#c0c0c0"/>
<rect x="1033" y="611" width="1" height="41" fill="#c0c0c0"/>
<rect x="1041" y="615" width="1" height="37" fill="#c0c0c0"/>
<rect x="1049" y="620" width="1" height="32" fill="#c0c0c0"/>
<rect x="1057" y="628" width="1" height="24" fill="#c0c0c0"/>
<rect x="1065" y="634" width="1" height="18" fill="#c0c0c0"/>
<rect x="1073" y="638" width="1" height="14" fill="#c0c0c0"/>
<rect x="1081" y="643" width="1" height="9" fill="#c0c0c0"/>
<rect x="1089" y="649" width="1" height="3" fill="#c0c0c0"/>
<rect x="1097" y="651" width="1" height="3" fill="#c0c0c0"/>
<rect x="1105" y="651" width="1" height="6" fill="#c0c0c0"/>
<rect x="1113" y="651" width="1" height="8" fill="#c0c0c0"/>
<rect x="1121" y="651" width="1" height="13" fill="#c0c0c0"/>
<rect x="1129" y="651" width="1" height="18" fill="#c0c0c0"/>
<rect x="1137" y="651" width="1" height="21" fill="#c0c0c0"/>
<rect x="1145" y="651" width="1" height="23" fill="#c0c0c0"/>
<rect x="1153" y="651" width="1" height="25" fill="#c0c0c0"/>
<rect x="1161" y="651" width="1" height="25" fill="#c0c0c0"/>
<rect x="1169" y="651" width="1" height="25" fill="#c0c0c0"/>
<rect x="1177" y="651" width="1" height="24" fill="#c0c0c0"/>
<rect x="1185" y="651" width="1" height="24" fill="#c0c0c0"/>
<rect x="1193" y="651" width="1" height="24" fill="#c0c0c0"/>
<rect x="1201" y="651" width="1" height="25" fill="#c0c0c0"/>
<rect x="1209" y="651" width="1" height="22" fill="#c0c0c0"/>
<rect x="1217" y="651" width="1" height="22" fill="#c0c0c0"/>
<rect x="1225" y="651" width="1" height="24" fill="#c0c0c0"/>
<rect x="1233" y="651" width="1" height="22" fill="#c0c0c0"/>
<rect x="1241" y="651" width="1" height="23" fill="#c0c0c0"/>
<rect x="1249" y="651" width="1" height="24" fill="#c0c0c0"/>
<rect x="1257" y="651" width="1" height="26" fill="#c0c0c0"/>
<rect x="1265" y="651" width="1" height="27" fill="#c0c0c0"/>
<rect x="1273" y="651" width="1" height="26" fill="#c0c0c0"/>
<rect x="1281" y="651" width="1" height="18" fill="#c0c0c0"/>
<rect x="1289" y="651" width="1" height="11" fill="#c0c0c0"/>
<path d="M1 659.5h2m3 0h3m3 -1h3m3 -1h1m0 -1h2m3 -2h2m0 -1h1m3 -2h2m0 -1h1m3 -3h1m0 -1h2m3 -3h1m0 -1h1m0 -1h1m3 -3h1m0 -1h1m0 -1h1m3 -3h1m0 -1h1m0 -1h1m3 -3h1m0 -1h1m0 -1h1m3 -3h2m0 -1h1m3 -3h1m0 -1h1m0 -1h1m3 -3h2m0 -1h1m3 -3h2m0 -1h1m3 -2h1m0 -1h2m3 -2h3m3 0h3m3 0h3m3 0h3m3 0h3m3 0h3m3 0h3m3 1h3m3 0h3m3 0h1m0 -1h2m3 0h3m3 0h3m3 -1h1m0 -1h2m3 0h3m3 -1h3m3 0h3m3 -1h3m3 0h3m3 0h3m3 0h2m0 1h1m3 0h1m0 1h2m3 2h2m0 1h1m3 2h1m0 1h2m3 2h1m0 1h2m3 2h1m0 1h2m3 3h2m0 1h1m3 2h1m0 1h2m3 3h2m0 1h1m3 2h2m0 1h1m3 2h2m0 1h1m3 2h2m0 1h1m3 2h2m0 1h1m3 1h3m3 1h3m3 1h3m3 0h3m3 0h3m3 0h3m3 0h3m3 0h3m3 0h3m3 0h3m3 0h3m3 0h3m3 0h3m3 0h3m3 0h3m3 0h3m3 1h3m3 1h3m3 0h3m3 0h3m3 1h3m3 0h3m3 0h3m3 1h3m3 1h3m3 0h1m0 1h2m3 0h3m3 1h3m3 1h3m3 1h2m0 1h1m3 1h1m0 1h2m3 1h3m3 1h1m0 1h2m3 2h1m0 1h1m0 1h1m3 2h1m0 1h2m3 2h1m0 1h1m0 1h1m3 2h2m0 1h1m3 3h1m0 1h1m0 1h1m3 3h1m0 1h2m3 3h1m0 1h1m0 1h1m3 2h1m0 1h1m0 1h1m3 4h1m0.5 0.5v2m3.5 3.5h1m0 1h1m0 1h1m2 4h1m0 1h1m0 1h1m2 4h1m0 1h1m0 1h1m2 4h1m0 1h1m0 1h1m3 4h1m0 1h1m0 1h1m2 4h1m0 1h1m0 1h1m3 4h1m0 1h1m0 1h1m3 3h1m0 1h1m0 1h1m3 4h1m0 1h1m0 1h1m3 2h3m3 2h2m0 1h1m3 1h1m0 1h2m3 2h3m3 0h2m0 1h1m3 0h3m3 0h2m0 -1h1m3 0h3m3 0h3m3 0h3m3 0h3m3 0h3m3 -1h3m3 -1h3m3 -1h3m3 -1h3m3 -2h1m0 -1h2m3 -2h1m0 -1h2m3 -3h1m0 -1h1m0 -1h1m3 -3h2m0 -1h1m3 -4h1m0 -1h2m3 -4h1m0 -1h1m0 -1h1m3 -3h1m0 -1h1m0 -1h1m3 -4h1m0 -1h1m0 -1h1m2 -4h1m0 -1h1m0 -1h1m2 -4h1m0 -1h1m0 -1h1m3 -4h1m0 -1h1m0 -1h1m3 -3h1m0 -1h1m0 -1h1m3 -4h1m0 -1h1m0 -1h1m3 -2h2m0 -1h1m3 -2h2m0 -1h1m3 -1h2m0 -1h1m3 0h2m0 -1h1m3 0h2m0 -1h1m3 0h3m3 0h3m3 1h3m3 0h3m3 0h1m0 1h2m3 0h1m0 1h2m3 0h2m0 1h1m3 0h3m3 0h3m3 0h3m3 0h3m3 0h3m3 -1h3m3 -1h3m3 0h3m3 -1h3m3 -1h2m0 -1h1m3 -1h1m0 -1h2m3 -2h2m0 -1h1m3 -2h2m0 -1h1m3 -2h1m0 -1h1m0 -1h1m3 -2h1m0 -1h2m3 -3h2m0 -1h1m3 -3h2m0 -1h1m3 -3h1m0 -1h1m0 -1h1m3 -4h1m0 -1h1m0 -1h1m3 -3h1m0 -1h1m0 -1h1m3 -3h2m0 -1h1m3 -3h1m0 -1h2m3 -3h2m0 -1h1m3 -2h1m0 -1h2m3 -2h1m0 -1h2m3 -2h1m0 -1h2m3 -2h2m0 -1h1m3 -1h3m3 -1h1m0 -1h2m3 -2h1m0 -1h2m3 -1h2m0 -1h1m3 0h3m3 -1h3m3 -1h3m3 0h1m0 1h2m3 0h1m0 1h2m3 1h2m0 1h1m3 1h3m3 2h1m0 1h1m0 1h1m3 2h1m0 1h1m0 1h1m3 2h2m0 1h1m3 2h2m0 1h1m3 2h1m0 1h1m0 1h1m3 3h1m0 1h2m3 3h1m0 1h1m0 1h1m3 2h1m0 1h1m0 1h1m3 2h1m0 1h2m3 2h1m0 1h2m3 3h2m0 1h1m3 3h2m0 1h1m3 3h2m0 1h1m3 2h1m0 1h2m3 2h1m0 1h2m3 2h2m0 1h1m3 1h1m0 1h2m3 1h2m0 1h1m3 1h3m3 1h2m0 1h1m3 1h3m3 1h3m3 1h3m3 0h2m0 1h1m3 0h3m3 0h3m3 0h3m3 0h3m3 0h3m3 0h3m3 -1h3m3 0h3m3 0h3m3 1h3m3 0h3m3 0h3m3 0h1m0 -1h2m3 0h3m3 -1h1" fill="none" stroke="#ff0000" stroke-width="1"/>
<rect x="1630" y="588" width="1" height="1" fill="#000"/>
<text x="1633" y="597" font-size="9.8" fill="#000" textLength="28" lengthAdjust="spacingAndGlyphs">395.25</text>
<rect x="1630" y="651" width="1" height="1" fill="#000"/>
<text x="1633" y="655" font-size="9.8" fill="#000" textLength="18" lengthAdjust="spacingAndGlyphs">0.00</text>
<rect x="1630" y="768" width="1" height="1" fill="#000"/>
<text x="1633" y="766" font-size="9.8" fill="#000" textLength="31" lengthAdjust="spacingAndGlyphs">-723.16</text>
<text x="5" y="784" font-size="9.8" fill="#000" textLength="68" lengthAdjust="spacingAndGlyphs">RSI(14) 59.4051</text>
<line x1="2" y1="804.5" x2="1629" y2="804.5" stroke="#c0c0c0" stroke-width="1" stroke-dasharray="3 3"/>
<line x1="2" y1="851.5" x2="1629" y2="851.5" stroke="#c0c0c0" stroke-width="1" stroke-dasharray="3 3"/>
<line x1="2" y1="907.5" x2="1629" y2="907.5" stroke="#c0c0c0" stroke-width="1" stroke-dasharray="3 3"/>
<path d="M1 845.5h2m0 -1h3m0 -1h2m0 -1h2m-1 -1h1m0.5 -2.5v2m1 -4v2m1 -5v3m1 -5v2m1 -5v3m1 -5v2m1 -4v2m1 -4v2m0.5 -1.5h4m0 -1h4m0 -1h2m0 -1h1m0 -1h1m0 -1h2m0 -1h1m0 -1h3m0 -1h4m0 -1h2m0 1h2m0 1h2m0 1h1m0 1h2m0 1h13m0 -1h5m0 1h3m0 1h2m0 1h2m0.5 0.5v2m1 0v2m1 0v2m0.5 0.5h1m0.5 0.5v2m1 0v2m1 0v2m0.5 0.5h13m0 1h12m0.5 -2.5v2m1 -4v2m0.5 -2.5h1m0.5 -2.5v2m0.5 -2.5h1m0.5 -2.5v2m1 -4v2m0.5 -2.5h5m0 -1h4m0 1h1m0 1h1m0 1h1m0 1h1m0 1h1m0 1h1m0 1h1m0 1h3m0 -1h4m0 -1h2m0.5 -2.5v2m1 -4v2m1 -4v2m0.5 -2.5h1m0.5 -2.5v2m1 -4v2m1 -4v2m0.5 -2.5h2m0 1h2m0 1h2m0 1h2m0 1h2m0 1h2m0 1h2m0 1h2m0 1h5m0 -1h8m0 1h5m0 1h2m0 1h2m0 1h2m0 1h5m0 -1h4m0 1h2m0 1h2m0 1h1m0 1h2m0.5 0.5v2m1 0v3m1 0v3m1 0v3m1 0v4m1 0v3m1 0v3m1 0v3m1 0v2m0.5 -0.5h2m0 -1h4m0 -1h2m0 1h1m0.5 0.5v2m0.5 0.5h1m0 1h1m0 1h1m0.5 0.5v2m0.5 0.5h1m0 1h9m0 -1h2m0 -1h2m0 -1h1m0 -1h2m0 -1h9m0.5 -2.5v2m1 -4v2m1 -4v2m1 -4v2m1 -4v2m1 -4v2m1 -4v2m0.5 -2.5h2m0 1h2m0 1h2m0 1h2m0 1h2m0 -1h2m0 -1h2m0 -1h2m0 -1h5m0 1h8m0 -1h6m0 1h4m0 1h3m0 -1h3m0 -1h2m0 -1h6m0 -1h4m0 1h2m0 1h2m0 1h1m0 1h2m0 1h2m0 -1h2m0 -1h2m0 -1h2m0 -1h1m0 1h1m0 1h1m0 1h1m0.5 0.5v2m0.5 0.5h1m0 1h1m0 1h1m0 1h3m0 1h4m0 1h2m-1 -1h1m0.5 -2.5v2m1 -4v2m1 -4v2m1 -5v3m1 -5v2m1 -4v2m1 -4v2m1 -4v2m0.5 -1.5h4m0 -1h4m-1 1h1m0.5 0.5v2m1 0v2m1 0v2m1 0v2m1 0v2m1 0v2m1 0v2m0.5 0.5h1m0 1h1m0 1h1m0 1h2m0 1h1m0 1h1m0 1h1m0 1h5m0 -1h5m0 -1h3m0 -1h2m0 -1h2m0.5 -2.5v2m1 -4v2m0.5 -2.5h1m0.5 -2.5v2m0.5 -2.5h1m0.5 -2.5v2m1 -4v2m0.5 -2.5h1m0 1h1m0.5 0.5v2m0.5 0.5h1m0 1h1m0 1h1m0.5 0.5v2m0.5 0.5h1m0 1h3m0 -1h4m0 -1h10m0 1h1m0 1h1m0 1h2m0 1h1m0 1h1m0 1h1m0 1h2m0 1h2m0 1h2m0 1h2m0 1h1m0.5 0.5v2m1 0v2m0.5 0.5h1m0.5 0.5v2m0.5 0.5h1m0.5 0.5v2m1 0v2m0.5 0.5h1m0 -1h2m0 -1h2m0 -1h1m0 -1h2m0 -1h3m0 -1h4m0 -1h6m0 1h4m0.5 0.5v2m0.5 0.5h1m0.5 0.5v2m0.5 0.5h1m0.5 0.5v2m0.5 0.5h1m0.5 0.5v2m0.5 0.5h9m0 1h2m0 1h1m0 1h1m0 1h2m0 1h1m0 1h3m0 1h4m0 1h2m0.5 0.5v2m0.5 0.5h1m0 1h1m0.5 0.5v2m0.5 0.5h1m0 1h1m0.5 0.5v2m0.5 0.5h3m0 1h4m0 1h2m0 1h1m0 1h1m0 1h1m0 1h1m0 1h1m0 1h1m0 1h1m0 1h5m0 1h8m0 1h5m0 -1h3m0 -1h2m0 -1h4m0 1h4m0 1h2m0 -1h1m0 -1h1m0 -1h1m0 -1h1m0 -1h1m0 -1h1m0 -1h1m0 -1h1m0 -1h1m0 -1h1m0 -1h2m0 -1h1m0 -1h1m0 -1h1m0 -1h5m0 1h14m0 1h4m0 1h6m0 1h4m0 1h2m0 1h2m0 1h1m0 1h2m0 1h2m0 1h3m0 1h2m0 1h6m0 1h4m0 -1h1m0 -1h1m0 -1h2m0 -1h1m0 -1h1m0 -1h1m0 -1h3m0 1h4m0 1h10m-1 -1h1m0.5 -2.5v2m1 -4v2m1 -4v2m1 -4v2m1 -4v2m1 -4v2m1 -4v2m0.5 -2.5h1m0.5 -2.5v2m0.5 -2.5h1m0 -1h1m0.5 -2.5v2m0.5 -2.5h1m0 -1h1m0.5 -2.5v2m0.5 -2.5h5m0 -1h4m-1 -1h1m0.5 -2.5v2m1 -5v3m1 -6v3m1 -5v2m1 -5v3m1 -6v3m1 -5v2m1 -4v2m0.5 -1.5h2m0 -1h4m0 -1h6m0 -1h16m0 1h6m0 -1h4m0 -1h2m0.5 0.5v2m0.5 0.5h1m0.5 0.5v2m0.5 0.5h1m0.5 0.5v2m0.5 0.5h1m0.5 0.5v2m0.5 0.5h9m0 -1h1m0 -1h1m0 -1h2m0 -1h1m0 -1h1m0 -1h1m0 -1h5m0 -1h4m-1 1h1m0.5 0.5v3m1 0v4m1 0v3m1 0v3m1 0v3m1 0v4m1 0v3m0.5 0.5h2m-2 1h1m0 -2h1m0.5 -2.5v2m0.5 -2.5h1m0.5 -2.5v2m0.5 -2.5h1m0.5 -2.5v2m1 -4v2m0.5 -2.5h18m0 1h3m0 1h2m0 1h6m0 1h5m0 1h3m0 1h2m0 1h2m0 -1h1m0.5 -2.5v2m0.5 -2.5h1m0 -1h1m0 -1h1m0.5 -2.5v2m0.5 -2.5h1m0 -1h1m0 -1h1m0 -1h1m0 -1h2m0 -1h1m0 -1h1m0 -1h1m0 -1h1m0 1h1m0 1h1m0 1h2m0 1h1m0 1h1m0 1h1m0 1h2m0 1h2m0 1h2m0 1h2m0 1h5m0 -1h8m0 1h8m0 1h4m0.5 -2.5v2m1 -4v2m1 -4v2m1 -4v2m1 -4v2m1 -4v2m1 -4v2m1 -4v2m1 -5v3m1 -6v3m1 -6v3m1 -6v3m1 -6v3m1 -6v3m1 -6v3m1 -5v2m0.5 -1.5h4m0 -1h5m0 1h3m0 1h2m0 1h3m0 -1h2m0 -1h2m0 -1h2m0 -1h3m0 1h4m0 1h4m0 -1h4m0 -1h20m0 1h4m0 1h2m0.5 -2.5v2m0.5 -2.5h1m0.5 -2.5v2m0.5 -2.5h1m0.5 -2.5v2m0.5 -2.5h1m0.5 -2.5v2m0.5 -2.5h5m0 -1h14m0 1h4m0 1h3m0 -1h3m0 -1h2m0 -1h3m0 -1h3m0 -1h2m0 -1h2m0.5 0.5v2m1 0v2m1 0v2m0.5 0.5h1m0.5 0.5v2m1 0v2m1 0v2m0.5 0.5h2m0 1h3m0 1h2m0 1h2m0.5 0.5v2m0.5 0.5h1m0 1h1m0.5 0.5v2m0.5 0.5h1m0 1h1m0.5 0.5v2m0.5 0.5h1m0 1h2m0 1h1m0 1h1m0 1h2m0 1h1m0 1h3m0 -1h4m0 -1h3m0 1h3m0 1h2m0 1h2m-1 1h1m0.5 0.5v2m1 0v2m1 0v2m1 0v2m1 0v2m1 0v2m1 0v2m0.5 0.5h2m0 -1h2m0 -1h2m0 -1h2m0 -1h5m0 -1h5m0 1h3m0 1h2m0 1h2m0 1h1m0 1h1m0 1h1m0.5 0.5v2m0.5 0.5h1m0 1h1m0 1h1m0 1h2m0 1h3m0 1h2m0 1h2m0.5 -2.5v2m0.5 -2.5h1m0 -1h1m0.5 -2.5v2m0.5 -2.5h1m0 -1h1m0.5 -2.5v2m0.5 -2.5h3m0 1h4m0 1h2m0 1h1m0 1h1m0 1h1m0.5 0.5v2m0.5 0.5h1m0 1h1m0 1h1m0 1h1m0 1h2m0 1h2m0 1h1m0 1h2m0 1h1m0 -1h2m0 -1h1m0 -1h1m0 -1h2m0 -1h1m0 -1h5m0 -1h6m0 1h4m0 1h4m0 -1h4m0 -1h2m0 -1h2m0 -1h2m0 -1h1m0 -1h2m0 -1h5m0 1h6m0 1h4m0 1h3m0 1h3m0 1h2m0 1h6m0 1h4m-1 -1h1m0.5 -2.5v2m1 -4v2m1 -4v2m1 -4v2m1 -4v2m1 -4v2m1 -4v2m0.5 -2.5h1m0 1h1m0 1h1m0 1h1m0.5 0.5v2m0.5 0.5h1m0 1h1m0 1h1m0 1h1m0 1h1m0 1h1m0 1h1m0 1h1m0 1h1m0 1h1m0 1h1m0 1h1m0.5 -2.5v2m1 -4v2m1 -4v2m0.5 -2.5h1m0.5 -2.5v2m1 -4v2m1 -4v2m0.5 -2.5h1m0 1h2m0 1h1m0 1h1m0 1h2m0 1h1m0 1h1m0 1h2m0 1h1m0 1h1m0 1h2m0 1h1m0 1h3m0 1h4m0 1h2m0 -1h2m0 -1h2m0 -1h1m0 -1h2m0 -1h2m0 -1h2m0 -1h2m0 -1h2m0.5 -2.5v2m1 -5v3m1 -6v3m1 -6v3m1 -5v2m1 -5v3m1 -6v3m1 -6v3m1 -5v2m0.5 -1.5h1m0 -1h2m0 -1h2m0 -1h2m0 -1h1" fill="none" stroke="#1e90ff" stroke-width="1"/>
<rect x="1630" y="773" width="1" height="1" fill="#000"/>
<text x="1633" y="782" font-size="9.8" fill="#000" textLength="14.5" lengthAdjust="spacingAndGlyphs">100</text>
<text x="1633" y="808" font-size="9.8" fill="#000" textLength="9.5" lengthAdjust="spacingAndGlyphs">80</text>
<text x="1633" y="855" font-size="9.8" fill="#000" textLength="9.5" lengthAdjust="spacingAndGlyphs">50</text>
<text x="1633" y="911" font-size="9.8" fill="#000" textLength="9.5" lengthAdjust="spacingAndGlyphs">15</text>
<text x="1633.5" y="928" font-size="9.8" fill="#000" textLength="4.8" lengthAdjust="spacingAndGlyphs">0</text>
<rect x="1" y="932" width="1" height="3" fill="#000"/>
<text x="0.5" y="944" font-size="9.8" fill="#000" textLength="49.5" lengthAdjust="spacingAndGlyphs">18 Jun 2019</text>
<rect x="65" y="932" width="1" height="3" fill="#000"/>
<text x="64.5" y="944" font-size="9.8" fill="#000" textLength="52.5" lengthAdjust="spacingAndGlyphs">24 Jun 01:15</text>
<rect x="129" y="932" width="1" height="3" fill="#000"/>
<text x="128.5" y="944" font-size="9.8" fill="#000" textLength="52.5" lengthAdjust="spacingAndGlyphs">28 Jun 01:15</text>
<rect x="193" y="932" width="1" height="3" fill="#000"/>
<text x="192.5" y="944" font-size="9.8" fill="#000" textLength="44.5" lengthAdjust="spacingAndGlyphs">5 Jul 01:15</text>
<rect x="257" y="932" width="1" height="3" fill="#000"/>
<text x="256.5" y="944" font-size="9.8" fill="#000" textLength="49.5" lengthAdjust="spacingAndGlyphs">11 Jul 01:15</text>
<rect x="321" y="932" width="1" height="3" fill="#000"/>
<text x="320.5" y="944" font-size="9.8" fill="#000" textLength="49.5" lengthAdjust="spacingAndGlyphs">17 Jul 01:15</text>
<rect x="385" y="932" width="1" height="3" fill="#000"/>
<text x="384.5" y="944" font-size="9.8" fill="#000" textLength="49.5" lengthAdjust="spacingAndGlyphs">23 Jul 01:15</text>
<rect x="449" y="932" width="1" height="3" fill="#000"/>
<text x="448.5" y="944" font-size="9.8" fill="#000" textLength="49.5" lengthAdjust="spacingAndGlyphs">29 Jul 01:15</text>
<rect x="513" y="932" width="1" height="3" fill="#000"/>
<text x="512.5" y="944" font-size="9.8" fill="#000" textLength="49.5" lengthAdjust="spacingAndGlyphs">2 Aug 01:15</text>
<rect x="577" y="932" width="1" height="3" fill="#000"/>
<text x="576.5" y="944" font-size="9.8" fill="#000" textLength="49.5" lengthAdjust="spacingAndGlyphs">8 Aug 01:15</text>
<rect x="641" y="932" width="1" height="3" fill="#000"/>
<text x="640.5" y="944" font-size="9.8" fill="#000" textLength="54.5" lengthAdjust="spacingAndGlyphs">14 Aug 01:15</text>
<rect x="705" y="932" width="1" height="3" fill="#000"/>
<text x="704.5" y="944" font-size="9.8" fill="#000" textLength="54.5" lengthAdjust="spacingAndGlyphs">20 Aug 01:15</text>
<rect x="769" y="932" width="1" height="3" fill="#000"/>
<text x="768.5" y="944" font-size="9.8" fill="#000" textLength="54.5" lengthAdjust="spacingAndGlyphs">26 Aug 01:15</text>
<rect x="833" y="932" width="1" height="3" fill="#000"/>
<text x="832.5" y="944" font-size="9.8" fill="#000" textLength="54.5" lengthAdjust="spacingAndGlyphs">30 Aug 01:15</text>
<rect x="897" y="932" width="1" height="3" fill="#000"/>
<text x="896.5" y="944" font-size="9.8" fill="#000" textLength="48.5" lengthAdjust="spacingAndGlyphs">5 Sep 01:15</text>
<rect x="961" y="932" width="1" height="3" fill="#000"/>
<text x="960.5" y="944" font-size="9.8" fill="#000" textLength="53.5" lengthAdjust="spacingAndGlyphs">11 Sep 01:15</text>
<rect x="1025" y="932" width="1" height="3" fill="#000"/>
<text x="1024.5" y="944" font-size="9.8" fill="#000" textLength="53.5" lengthAdjust="spacingAndGlyphs">17 Sep 01:15</text>
<rect x="1089" y="932" width="1" height="3" fill="#000"/>
<text x="1088.5" y="944" font-size="9.8" fill="#000" textLength="53.5" lengthAdjust="spacingAndGlyphs">23 Sep 01:15</text>
<rect x="1153" y="932" width="1" height="3" fill="#000"/>
<text x="1152.5" y="944" font-size="9.8" fill="#000" textLength="53.5" lengthAdjust="spacingAndGlyphs">27 Sep 01:15</text>
<rect x="1217" y="932" width="1" height="3" fill="#000"/>
<text x="1216.5" y="944" font-size="9.8" fill="#000" textLength="46.5" lengthAdjust="spacingAndGlyphs">4 Oct 01:15</text>
<rect x="1281" y="932" width="1" height="3" fill="#000"/>
<text x="1280.5" y="944" font-size="9.8" fill="#000" textLength="51.5" lengthAdjust="spacingAndGlyphs">11 Oct 01:15</text>
</g>
</svg></body></html>
